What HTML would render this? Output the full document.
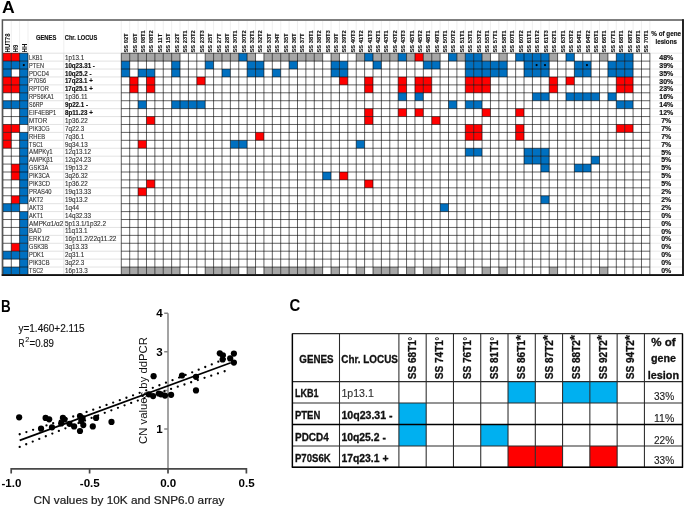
<!DOCTYPE html>
<html><head><meta charset="utf-8"><style>
html,body{margin:0;padding:0;background:#fff;}
body{width:685px;height:508px;overflow:hidden;font-family:"Liberation Sans",sans-serif;}
svg{display:block;will-change:transform;}
</style></head><body>
<svg width="685" height="508" viewBox="0 0 685 508">
<rect width="685" height="508" fill="#fff"/>
<text transform="translate(2.0,12.8) scale(1.08,1)" font-size="16.3" font-weight="bold" font-family="Liberation Sans, sans-serif">A</text>
<line x1="11.30" y1="21" x2="11.30" y2="53.2" stroke="#ebebeb" stroke-width="0.8"/>
<line x1="19.60" y1="21" x2="19.60" y2="53.2" stroke="#ebebeb" stroke-width="0.8"/>
<line x1="28.00" y1="21" x2="28.00" y2="53.2" stroke="#ebebeb" stroke-width="0.8"/>
<line x1="63.80" y1="21" x2="63.80" y2="53.2" stroke="#ebebeb" stroke-width="0.8"/>
<line x1="121.30" y1="21" x2="121.30" y2="53.2" stroke="#ebebeb" stroke-width="0.8"/>
<line x1="129.69" y1="21" x2="129.69" y2="53.2" stroke="#ebebeb" stroke-width="0.8"/>
<line x1="138.08" y1="21" x2="138.08" y2="53.2" stroke="#ebebeb" stroke-width="0.8"/>
<line x1="146.47" y1="21" x2="146.47" y2="53.2" stroke="#ebebeb" stroke-width="0.8"/>
<line x1="154.86" y1="21" x2="154.86" y2="53.2" stroke="#ebebeb" stroke-width="0.8"/>
<line x1="163.25" y1="21" x2="163.25" y2="53.2" stroke="#ebebeb" stroke-width="0.8"/>
<line x1="171.64" y1="21" x2="171.64" y2="53.2" stroke="#ebebeb" stroke-width="0.8"/>
<line x1="180.03" y1="21" x2="180.03" y2="53.2" stroke="#ebebeb" stroke-width="0.8"/>
<line x1="188.42" y1="21" x2="188.42" y2="53.2" stroke="#ebebeb" stroke-width="0.8"/>
<line x1="196.81" y1="21" x2="196.81" y2="53.2" stroke="#ebebeb" stroke-width="0.8"/>
<line x1="205.20" y1="21" x2="205.20" y2="53.2" stroke="#ebebeb" stroke-width="0.8"/>
<line x1="213.59" y1="21" x2="213.59" y2="53.2" stroke="#ebebeb" stroke-width="0.8"/>
<line x1="221.98" y1="21" x2="221.98" y2="53.2" stroke="#ebebeb" stroke-width="0.8"/>
<line x1="230.37" y1="21" x2="230.37" y2="53.2" stroke="#ebebeb" stroke-width="0.8"/>
<line x1="238.76" y1="21" x2="238.76" y2="53.2" stroke="#ebebeb" stroke-width="0.8"/>
<line x1="247.15" y1="21" x2="247.15" y2="53.2" stroke="#ebebeb" stroke-width="0.8"/>
<line x1="255.54" y1="21" x2="255.54" y2="53.2" stroke="#ebebeb" stroke-width="0.8"/>
<line x1="263.93" y1="21" x2="263.93" y2="53.2" stroke="#ebebeb" stroke-width="0.8"/>
<line x1="272.32" y1="21" x2="272.32" y2="53.2" stroke="#ebebeb" stroke-width="0.8"/>
<line x1="280.71" y1="21" x2="280.71" y2="53.2" stroke="#ebebeb" stroke-width="0.8"/>
<line x1="289.10" y1="21" x2="289.10" y2="53.2" stroke="#ebebeb" stroke-width="0.8"/>
<line x1="297.49" y1="21" x2="297.49" y2="53.2" stroke="#ebebeb" stroke-width="0.8"/>
<line x1="305.88" y1="21" x2="305.88" y2="53.2" stroke="#ebebeb" stroke-width="0.8"/>
<line x1="314.27" y1="21" x2="314.27" y2="53.2" stroke="#ebebeb" stroke-width="0.8"/>
<line x1="322.66" y1="21" x2="322.66" y2="53.2" stroke="#ebebeb" stroke-width="0.8"/>
<line x1="331.05" y1="21" x2="331.05" y2="53.2" stroke="#ebebeb" stroke-width="0.8"/>
<line x1="339.44" y1="21" x2="339.44" y2="53.2" stroke="#ebebeb" stroke-width="0.8"/>
<line x1="347.83" y1="21" x2="347.83" y2="53.2" stroke="#ebebeb" stroke-width="0.8"/>
<line x1="356.22" y1="21" x2="356.22" y2="53.2" stroke="#ebebeb" stroke-width="0.8"/>
<line x1="364.61" y1="21" x2="364.61" y2="53.2" stroke="#ebebeb" stroke-width="0.8"/>
<line x1="373.00" y1="21" x2="373.00" y2="53.2" stroke="#ebebeb" stroke-width="0.8"/>
<line x1="381.39" y1="21" x2="381.39" y2="53.2" stroke="#ebebeb" stroke-width="0.8"/>
<line x1="389.78" y1="21" x2="389.78" y2="53.2" stroke="#ebebeb" stroke-width="0.8"/>
<line x1="398.17" y1="21" x2="398.17" y2="53.2" stroke="#ebebeb" stroke-width="0.8"/>
<line x1="406.56" y1="21" x2="406.56" y2="53.2" stroke="#ebebeb" stroke-width="0.8"/>
<line x1="414.95" y1="21" x2="414.95" y2="53.2" stroke="#ebebeb" stroke-width="0.8"/>
<line x1="423.34" y1="21" x2="423.34" y2="53.2" stroke="#ebebeb" stroke-width="0.8"/>
<line x1="431.73" y1="21" x2="431.73" y2="53.2" stroke="#ebebeb" stroke-width="0.8"/>
<line x1="440.12" y1="21" x2="440.12" y2="53.2" stroke="#ebebeb" stroke-width="0.8"/>
<line x1="448.51" y1="21" x2="448.51" y2="53.2" stroke="#ebebeb" stroke-width="0.8"/>
<line x1="456.90" y1="21" x2="456.90" y2="53.2" stroke="#ebebeb" stroke-width="0.8"/>
<line x1="465.29" y1="21" x2="465.29" y2="53.2" stroke="#ebebeb" stroke-width="0.8"/>
<line x1="473.68" y1="21" x2="473.68" y2="53.2" stroke="#ebebeb" stroke-width="0.8"/>
<line x1="482.07" y1="21" x2="482.07" y2="53.2" stroke="#ebebeb" stroke-width="0.8"/>
<line x1="490.46" y1="21" x2="490.46" y2="53.2" stroke="#ebebeb" stroke-width="0.8"/>
<line x1="498.85" y1="21" x2="498.85" y2="53.2" stroke="#ebebeb" stroke-width="0.8"/>
<line x1="507.24" y1="21" x2="507.24" y2="53.2" stroke="#ebebeb" stroke-width="0.8"/>
<line x1="515.63" y1="21" x2="515.63" y2="53.2" stroke="#ebebeb" stroke-width="0.8"/>
<line x1="524.02" y1="21" x2="524.02" y2="53.2" stroke="#ebebeb" stroke-width="0.8"/>
<line x1="532.41" y1="21" x2="532.41" y2="53.2" stroke="#ebebeb" stroke-width="0.8"/>
<line x1="540.80" y1="21" x2="540.80" y2="53.2" stroke="#ebebeb" stroke-width="0.8"/>
<line x1="549.19" y1="21" x2="549.19" y2="53.2" stroke="#ebebeb" stroke-width="0.8"/>
<line x1="557.58" y1="21" x2="557.58" y2="53.2" stroke="#ebebeb" stroke-width="0.8"/>
<line x1="565.97" y1="21" x2="565.97" y2="53.2" stroke="#ebebeb" stroke-width="0.8"/>
<line x1="574.36" y1="21" x2="574.36" y2="53.2" stroke="#ebebeb" stroke-width="0.8"/>
<line x1="582.75" y1="21" x2="582.75" y2="53.2" stroke="#ebebeb" stroke-width="0.8"/>
<line x1="591.14" y1="21" x2="591.14" y2="53.2" stroke="#ebebeb" stroke-width="0.8"/>
<line x1="599.53" y1="21" x2="599.53" y2="53.2" stroke="#ebebeb" stroke-width="0.8"/>
<line x1="607.92" y1="21" x2="607.92" y2="53.2" stroke="#ebebeb" stroke-width="0.8"/>
<line x1="616.31" y1="21" x2="616.31" y2="53.2" stroke="#ebebeb" stroke-width="0.8"/>
<line x1="624.70" y1="21" x2="624.70" y2="53.2" stroke="#ebebeb" stroke-width="0.8"/>
<line x1="633.09" y1="21" x2="633.09" y2="53.2" stroke="#ebebeb" stroke-width="0.8"/>
<line x1="641.48" y1="21" x2="641.48" y2="53.2" stroke="#ebebeb" stroke-width="0.8"/>
<line x1="649.87" y1="21" x2="649.87" y2="53.2" stroke="#ebebeb" stroke-width="0.8"/>
<line x1="28" y1="53.20" x2="121.3" y2="53.20" stroke="#dcdcdc" stroke-width="0.8"/>
<line x1="649.87" y1="53.20" x2="682" y2="53.20" stroke="#e4e4e4" stroke-width="0.8"/>
<line x1="28" y1="61.12" x2="121.3" y2="61.12" stroke="#dcdcdc" stroke-width="0.8"/>
<line x1="649.87" y1="61.12" x2="682" y2="61.12" stroke="#e4e4e4" stroke-width="0.8"/>
<line x1="28" y1="69.04" x2="121.3" y2="69.04" stroke="#dcdcdc" stroke-width="0.8"/>
<line x1="649.87" y1="69.04" x2="682" y2="69.04" stroke="#e4e4e4" stroke-width="0.8"/>
<line x1="28" y1="76.96" x2="121.3" y2="76.96" stroke="#dcdcdc" stroke-width="0.8"/>
<line x1="649.87" y1="76.96" x2="682" y2="76.96" stroke="#e4e4e4" stroke-width="0.8"/>
<line x1="28" y1="84.88" x2="121.3" y2="84.88" stroke="#dcdcdc" stroke-width="0.8"/>
<line x1="649.87" y1="84.88" x2="682" y2="84.88" stroke="#e4e4e4" stroke-width="0.8"/>
<line x1="28" y1="92.80" x2="121.3" y2="92.80" stroke="#dcdcdc" stroke-width="0.8"/>
<line x1="649.87" y1="92.80" x2="682" y2="92.80" stroke="#e4e4e4" stroke-width="0.8"/>
<line x1="28" y1="100.72" x2="121.3" y2="100.72" stroke="#dcdcdc" stroke-width="0.8"/>
<line x1="649.87" y1="100.72" x2="682" y2="100.72" stroke="#e4e4e4" stroke-width="0.8"/>
<line x1="28" y1="108.64" x2="121.3" y2="108.64" stroke="#dcdcdc" stroke-width="0.8"/>
<line x1="649.87" y1="108.64" x2="682" y2="108.64" stroke="#e4e4e4" stroke-width="0.8"/>
<line x1="28" y1="116.56" x2="121.3" y2="116.56" stroke="#dcdcdc" stroke-width="0.8"/>
<line x1="649.87" y1="116.56" x2="682" y2="116.56" stroke="#e4e4e4" stroke-width="0.8"/>
<line x1="28" y1="124.48" x2="121.3" y2="124.48" stroke="#dcdcdc" stroke-width="0.8"/>
<line x1="649.87" y1="124.48" x2="682" y2="124.48" stroke="#e4e4e4" stroke-width="0.8"/>
<line x1="28" y1="132.40" x2="121.3" y2="132.40" stroke="#dcdcdc" stroke-width="0.8"/>
<line x1="649.87" y1="132.40" x2="682" y2="132.40" stroke="#e4e4e4" stroke-width="0.8"/>
<line x1="28" y1="140.32" x2="121.3" y2="140.32" stroke="#dcdcdc" stroke-width="0.8"/>
<line x1="649.87" y1="140.32" x2="682" y2="140.32" stroke="#e4e4e4" stroke-width="0.8"/>
<line x1="28" y1="148.24" x2="121.3" y2="148.24" stroke="#dcdcdc" stroke-width="0.8"/>
<line x1="649.87" y1="148.24" x2="682" y2="148.24" stroke="#e4e4e4" stroke-width="0.8"/>
<line x1="28" y1="156.16" x2="121.3" y2="156.16" stroke="#dcdcdc" stroke-width="0.8"/>
<line x1="649.87" y1="156.16" x2="682" y2="156.16" stroke="#e4e4e4" stroke-width="0.8"/>
<line x1="28" y1="164.08" x2="121.3" y2="164.08" stroke="#dcdcdc" stroke-width="0.8"/>
<line x1="649.87" y1="164.08" x2="682" y2="164.08" stroke="#e4e4e4" stroke-width="0.8"/>
<line x1="28" y1="172.00" x2="121.3" y2="172.00" stroke="#dcdcdc" stroke-width="0.8"/>
<line x1="649.87" y1="172.00" x2="682" y2="172.00" stroke="#e4e4e4" stroke-width="0.8"/>
<line x1="28" y1="179.92" x2="121.3" y2="179.92" stroke="#dcdcdc" stroke-width="0.8"/>
<line x1="649.87" y1="179.92" x2="682" y2="179.92" stroke="#e4e4e4" stroke-width="0.8"/>
<line x1="28" y1="187.84" x2="121.3" y2="187.84" stroke="#dcdcdc" stroke-width="0.8"/>
<line x1="649.87" y1="187.84" x2="682" y2="187.84" stroke="#e4e4e4" stroke-width="0.8"/>
<line x1="28" y1="195.76" x2="121.3" y2="195.76" stroke="#dcdcdc" stroke-width="0.8"/>
<line x1="649.87" y1="195.76" x2="682" y2="195.76" stroke="#e4e4e4" stroke-width="0.8"/>
<line x1="28" y1="203.68" x2="121.3" y2="203.68" stroke="#dcdcdc" stroke-width="0.8"/>
<line x1="649.87" y1="203.68" x2="682" y2="203.68" stroke="#e4e4e4" stroke-width="0.8"/>
<line x1="28" y1="211.60" x2="121.3" y2="211.60" stroke="#dcdcdc" stroke-width="0.8"/>
<line x1="649.87" y1="211.60" x2="682" y2="211.60" stroke="#e4e4e4" stroke-width="0.8"/>
<line x1="28" y1="219.52" x2="121.3" y2="219.52" stroke="#dcdcdc" stroke-width="0.8"/>
<line x1="649.87" y1="219.52" x2="682" y2="219.52" stroke="#e4e4e4" stroke-width="0.8"/>
<line x1="28" y1="227.44" x2="121.3" y2="227.44" stroke="#dcdcdc" stroke-width="0.8"/>
<line x1="649.87" y1="227.44" x2="682" y2="227.44" stroke="#e4e4e4" stroke-width="0.8"/>
<line x1="28" y1="235.36" x2="121.3" y2="235.36" stroke="#dcdcdc" stroke-width="0.8"/>
<line x1="649.87" y1="235.36" x2="682" y2="235.36" stroke="#e4e4e4" stroke-width="0.8"/>
<line x1="28" y1="243.28" x2="121.3" y2="243.28" stroke="#dcdcdc" stroke-width="0.8"/>
<line x1="649.87" y1="243.28" x2="682" y2="243.28" stroke="#e4e4e4" stroke-width="0.8"/>
<line x1="28" y1="251.20" x2="121.3" y2="251.20" stroke="#dcdcdc" stroke-width="0.8"/>
<line x1="649.87" y1="251.20" x2="682" y2="251.20" stroke="#e4e4e4" stroke-width="0.8"/>
<line x1="28" y1="259.12" x2="121.3" y2="259.12" stroke="#dcdcdc" stroke-width="0.8"/>
<line x1="649.87" y1="259.12" x2="682" y2="259.12" stroke="#e4e4e4" stroke-width="0.8"/>
<line x1="28" y1="267.04" x2="121.3" y2="267.04" stroke="#dcdcdc" stroke-width="0.8"/>
<line x1="649.87" y1="267.04" x2="682" y2="267.04" stroke="#e4e4e4" stroke-width="0.8"/>
<line x1="63.8" y1="53.2" x2="63.8" y2="275" stroke="#dcdcdc" stroke-width="0.8"/>
<rect x="2.80" y="53.20" width="8.50" height="7.92" fill="#FF0000"/>
<rect x="11.30" y="53.20" width="8.30" height="7.92" fill="#FF0000"/>
<rect x="19.60" y="53.20" width="8.40" height="7.92" fill="#0070C0"/>
<rect x="2.80" y="61.12" width="8.50" height="7.92" fill="#0070C0"/>
<rect x="11.30" y="61.12" width="8.30" height="7.92" fill="#0070C0"/>
<rect x="19.60" y="61.12" width="8.40" height="7.92" fill="#0070C0"/>
<rect x="2.80" y="69.04" width="8.50" height="7.92" fill="#0070C0"/>
<rect x="19.60" y="69.04" width="8.40" height="7.92" fill="#0070C0"/>
<rect x="2.80" y="76.96" width="8.50" height="7.92" fill="#FF0000"/>
<rect x="11.30" y="76.96" width="8.30" height="7.92" fill="#FF0000"/>
<rect x="19.60" y="76.96" width="8.40" height="7.92" fill="#0070C0"/>
<rect x="2.80" y="84.88" width="8.50" height="7.92" fill="#FF0000"/>
<rect x="11.30" y="84.88" width="8.30" height="7.92" fill="#FF0000"/>
<rect x="19.60" y="84.88" width="8.40" height="7.92" fill="#0070C0"/>
<rect x="19.60" y="92.80" width="8.40" height="7.92" fill="#0070C0"/>
<rect x="2.80" y="100.72" width="8.50" height="7.92" fill="#0070C0"/>
<rect x="11.30" y="100.72" width="8.30" height="7.92" fill="#0070C0"/>
<rect x="19.60" y="100.72" width="8.40" height="7.92" fill="#0070C0"/>
<rect x="19.60" y="108.64" width="8.40" height="7.92" fill="#0070C0"/>
<rect x="19.60" y="116.56" width="8.40" height="7.92" fill="#0070C0"/>
<rect x="2.80" y="124.48" width="8.50" height="7.92" fill="#FF0000"/>
<rect x="11.30" y="124.48" width="8.30" height="7.92" fill="#FF0000"/>
<rect x="2.80" y="132.40" width="8.50" height="7.92" fill="#FF0000"/>
<rect x="19.60" y="132.40" width="8.40" height="7.92" fill="#0070C0"/>
<rect x="2.80" y="140.32" width="8.50" height="7.92" fill="#FF0000"/>
<rect x="19.60" y="140.32" width="8.40" height="7.92" fill="#0070C0"/>
<rect x="19.60" y="148.24" width="8.40" height="7.92" fill="#0070C0"/>
<rect x="19.60" y="156.16" width="8.40" height="7.92" fill="#0070C0"/>
<rect x="11.30" y="164.08" width="8.30" height="7.92" fill="#FF0000"/>
<rect x="19.60" y="164.08" width="8.40" height="7.92" fill="#0070C0"/>
<rect x="11.30" y="172.00" width="8.30" height="7.92" fill="#FF0000"/>
<rect x="19.60" y="172.00" width="8.40" height="7.92" fill="#0070C0"/>
<rect x="19.60" y="179.92" width="8.40" height="7.92" fill="#0070C0"/>
<rect x="19.60" y="187.84" width="8.40" height="7.92" fill="#0070C0"/>
<rect x="11.30" y="195.76" width="8.30" height="7.92" fill="#FF0000"/>
<rect x="19.60" y="195.76" width="8.40" height="7.92" fill="#0070C0"/>
<rect x="2.80" y="203.68" width="8.50" height="7.92" fill="#0070C0"/>
<rect x="11.30" y="203.68" width="8.30" height="7.92" fill="#0070C0"/>
<rect x="19.60" y="211.60" width="8.40" height="7.92" fill="#0070C0"/>
<rect x="19.60" y="219.52" width="8.40" height="7.92" fill="#0070C0"/>
<rect x="19.60" y="227.44" width="8.40" height="7.92" fill="#0070C0"/>
<rect x="19.60" y="235.36" width="8.40" height="7.92" fill="#0070C0"/>
<rect x="11.30" y="243.28" width="8.30" height="7.92" fill="#FF0000"/>
<rect x="19.60" y="243.28" width="8.40" height="7.92" fill="#0070C0"/>
<rect x="2.80" y="251.20" width="8.50" height="7.92" fill="#0070C0"/>
<rect x="11.30" y="251.20" width="8.30" height="7.92" fill="#0070C0"/>
<rect x="19.60" y="251.20" width="8.40" height="7.92" fill="#0070C0"/>
<rect x="19.60" y="259.12" width="8.40" height="7.92" fill="#0070C0"/>
<rect x="2.80" y="267.04" width="8.50" height="7.92" fill="#0070C0"/>
<rect x="11.30" y="267.04" width="8.30" height="7.92" fill="#0070C0"/>
<rect x="19.60" y="267.04" width="8.40" height="7.92" fill="#0070C0"/>
<rect x="121.30" y="53.20" width="8.39" height="7.92" fill="#A6A6A6"/>
<rect x="129.69" y="53.20" width="8.39" height="7.92" fill="#A6A6A6"/>
<rect x="138.08" y="53.20" width="8.39" height="7.92" fill="#A6A6A6"/>
<rect x="146.47" y="53.20" width="8.39" height="7.92" fill="#A6A6A6"/>
<rect x="154.86" y="53.20" width="8.39" height="7.92" fill="#A6A6A6"/>
<rect x="163.25" y="53.20" width="8.39" height="7.92" fill="#A6A6A6"/>
<rect x="171.64" y="53.20" width="8.39" height="7.92" fill="#A6A6A6"/>
<rect x="205.20" y="53.20" width="8.39" height="7.92" fill="#A6A6A6"/>
<rect x="213.59" y="53.20" width="8.39" height="7.92" fill="#A6A6A6"/>
<rect x="221.98" y="53.20" width="8.39" height="7.92" fill="#A6A6A6"/>
<rect x="230.37" y="53.20" width="8.39" height="7.92" fill="#A6A6A6"/>
<rect x="238.76" y="53.20" width="8.39" height="7.92" fill="#0070C0"/>
<rect x="247.15" y="53.20" width="8.39" height="7.92" fill="#A6A6A6"/>
<rect x="263.93" y="53.20" width="8.39" height="7.92" fill="#A6A6A6"/>
<rect x="272.32" y="53.20" width="8.39" height="7.92" fill="#A6A6A6"/>
<rect x="280.71" y="53.20" width="8.39" height="7.92" fill="#A6A6A6"/>
<rect x="289.10" y="53.20" width="8.39" height="7.92" fill="#A6A6A6"/>
<rect x="297.49" y="53.20" width="8.39" height="7.92" fill="#A6A6A6"/>
<rect x="305.88" y="53.20" width="8.39" height="7.92" fill="#A6A6A6"/>
<rect x="314.27" y="53.20" width="8.39" height="7.92" fill="#A6A6A6"/>
<rect x="331.05" y="53.20" width="8.39" height="7.92" fill="#A6A6A6"/>
<rect x="356.22" y="53.20" width="8.39" height="7.92" fill="#A6A6A6"/>
<rect x="364.61" y="53.20" width="8.39" height="7.92" fill="#0070C0"/>
<rect x="373.00" y="53.20" width="8.39" height="7.92" fill="#A6A6A6"/>
<rect x="381.39" y="53.20" width="8.39" height="7.92" fill="#A6A6A6"/>
<rect x="389.78" y="53.20" width="8.39" height="7.92" fill="#A6A6A6"/>
<rect x="398.17" y="53.20" width="8.39" height="7.92" fill="#0070C0"/>
<rect x="406.56" y="53.20" width="8.39" height="7.92" fill="#A6A6A6"/>
<rect x="414.95" y="53.20" width="8.39" height="7.92" fill="#FF0000"/>
<rect x="423.34" y="53.20" width="8.39" height="7.92" fill="#A6A6A6"/>
<rect x="431.73" y="53.20" width="8.39" height="7.92" fill="#A6A6A6"/>
<rect x="448.51" y="53.20" width="8.39" height="7.92" fill="#0070C0"/>
<rect x="456.90" y="53.20" width="8.39" height="7.92" fill="#A6A6A6"/>
<rect x="465.29" y="53.20" width="8.39" height="7.92" fill="#0070C0"/>
<rect x="473.68" y="53.20" width="8.39" height="7.92" fill="#0070C0"/>
<rect x="482.07" y="53.20" width="8.39" height="7.92" fill="#A6A6A6"/>
<rect x="498.85" y="53.20" width="8.39" height="7.92" fill="#A6A6A6"/>
<rect x="515.63" y="53.20" width="8.39" height="7.92" fill="#0070C0"/>
<rect x="524.02" y="53.20" width="8.39" height="7.92" fill="#0070C0"/>
<rect x="532.41" y="53.20" width="8.39" height="7.92" fill="#0070C0"/>
<rect x="540.80" y="53.20" width="8.39" height="7.92" fill="#0070C0"/>
<rect x="549.19" y="53.20" width="8.39" height="7.92" fill="#A6A6A6"/>
<rect x="565.97" y="53.20" width="8.39" height="7.92" fill="#0070C0"/>
<rect x="599.53" y="53.20" width="8.39" height="7.92" fill="#A6A6A6"/>
<rect x="616.31" y="53.20" width="8.39" height="7.92" fill="#0070C0"/>
<rect x="624.70" y="53.20" width="8.39" height="7.92" fill="#0070C0"/>
<rect x="121.30" y="61.12" width="8.39" height="7.92" fill="#0070C0"/>
<rect x="171.64" y="61.12" width="8.39" height="7.92" fill="#0070C0"/>
<rect x="205.20" y="61.12" width="8.39" height="7.92" fill="#0070C0"/>
<rect x="247.15" y="61.12" width="8.39" height="7.92" fill="#0070C0"/>
<rect x="255.54" y="61.12" width="8.39" height="7.92" fill="#0070C0"/>
<rect x="289.10" y="61.12" width="8.39" height="7.92" fill="#0070C0"/>
<rect x="331.05" y="61.12" width="8.39" height="7.92" fill="#0070C0"/>
<rect x="339.44" y="61.12" width="8.39" height="7.92" fill="#0070C0"/>
<rect x="373.00" y="61.12" width="8.39" height="7.92" fill="#0070C0"/>
<rect x="423.34" y="61.12" width="8.39" height="7.92" fill="#0070C0"/>
<rect x="431.73" y="61.12" width="8.39" height="7.92" fill="#0070C0"/>
<rect x="465.29" y="61.12" width="8.39" height="7.92" fill="#0070C0"/>
<rect x="473.68" y="61.12" width="8.39" height="7.92" fill="#0070C0"/>
<rect x="482.07" y="61.12" width="8.39" height="7.92" fill="#0070C0"/>
<rect x="490.46" y="61.12" width="8.39" height="7.92" fill="#0070C0"/>
<rect x="498.85" y="61.12" width="8.39" height="7.92" fill="#0070C0"/>
<rect x="524.02" y="61.12" width="8.39" height="7.92" fill="#0070C0"/>
<rect x="532.41" y="61.12" width="8.39" height="7.92" fill="#0070C0"/>
<rect x="540.80" y="61.12" width="8.39" height="7.92" fill="#0070C0"/>
<rect x="574.36" y="61.12" width="8.39" height="7.92" fill="#0070C0"/>
<rect x="582.75" y="61.12" width="8.39" height="7.92" fill="#0070C0"/>
<rect x="607.92" y="61.12" width="8.39" height="7.92" fill="#0070C0"/>
<rect x="616.31" y="61.12" width="8.39" height="7.92" fill="#0070C0"/>
<rect x="624.70" y="61.12" width="8.39" height="7.92" fill="#0070C0"/>
<rect x="121.30" y="69.04" width="8.39" height="7.92" fill="#0070C0"/>
<rect x="138.08" y="69.04" width="8.39" height="7.92" fill="#0070C0"/>
<rect x="146.47" y="69.04" width="8.39" height="7.92" fill="#0070C0"/>
<rect x="171.64" y="69.04" width="8.39" height="7.92" fill="#0070C0"/>
<rect x="221.98" y="69.04" width="8.39" height="7.92" fill="#0070C0"/>
<rect x="247.15" y="69.04" width="8.39" height="7.92" fill="#0070C0"/>
<rect x="255.54" y="69.04" width="8.39" height="7.92" fill="#0070C0"/>
<rect x="272.32" y="69.04" width="8.39" height="7.92" fill="#0070C0"/>
<rect x="331.05" y="69.04" width="8.39" height="7.92" fill="#0070C0"/>
<rect x="339.44" y="69.04" width="8.39" height="7.92" fill="#0070C0"/>
<rect x="465.29" y="69.04" width="8.39" height="7.92" fill="#0070C0"/>
<rect x="473.68" y="69.04" width="8.39" height="7.92" fill="#0070C0"/>
<rect x="482.07" y="69.04" width="8.39" height="7.92" fill="#0070C0"/>
<rect x="490.46" y="69.04" width="8.39" height="7.92" fill="#0070C0"/>
<rect x="498.85" y="69.04" width="8.39" height="7.92" fill="#0070C0"/>
<rect x="524.02" y="69.04" width="8.39" height="7.92" fill="#0070C0"/>
<rect x="532.41" y="69.04" width="8.39" height="7.92" fill="#0070C0"/>
<rect x="540.80" y="69.04" width="8.39" height="7.92" fill="#0070C0"/>
<rect x="574.36" y="69.04" width="8.39" height="7.92" fill="#0070C0"/>
<rect x="582.75" y="69.04" width="8.39" height="7.92" fill="#0070C0"/>
<rect x="607.92" y="69.04" width="8.39" height="7.92" fill="#0070C0"/>
<rect x="616.31" y="69.04" width="8.39" height="7.92" fill="#0070C0"/>
<rect x="624.70" y="69.04" width="8.39" height="7.92" fill="#0070C0"/>
<rect x="129.69" y="76.96" width="8.39" height="7.92" fill="#FF0000"/>
<rect x="146.47" y="76.96" width="8.39" height="7.92" fill="#FF0000"/>
<rect x="196.81" y="76.96" width="8.39" height="7.92" fill="#FF0000"/>
<rect x="339.44" y="76.96" width="8.39" height="7.92" fill="#FF0000"/>
<rect x="364.61" y="76.96" width="8.39" height="7.92" fill="#FF0000"/>
<rect x="398.17" y="76.96" width="8.39" height="7.92" fill="#FF0000"/>
<rect x="414.95" y="76.96" width="8.39" height="7.92" fill="#FF0000"/>
<rect x="423.34" y="76.96" width="8.39" height="7.92" fill="#FF0000"/>
<rect x="465.29" y="76.96" width="8.39" height="7.92" fill="#FF0000"/>
<rect x="473.68" y="76.96" width="8.39" height="7.92" fill="#FF0000"/>
<rect x="482.07" y="76.96" width="8.39" height="7.92" fill="#FF0000"/>
<rect x="549.19" y="76.96" width="8.39" height="7.92" fill="#FF0000"/>
<rect x="565.97" y="76.96" width="8.39" height="7.92" fill="#FF0000"/>
<rect x="616.31" y="76.96" width="8.39" height="7.92" fill="#FF0000"/>
<rect x="624.70" y="76.96" width="8.39" height="7.92" fill="#FF0000"/>
<rect x="129.69" y="84.88" width="8.39" height="7.92" fill="#FF0000"/>
<rect x="146.47" y="84.88" width="8.39" height="7.92" fill="#FF0000"/>
<rect x="364.61" y="84.88" width="8.39" height="7.92" fill="#FF0000"/>
<rect x="398.17" y="84.88" width="8.39" height="7.92" fill="#FF0000"/>
<rect x="414.95" y="84.88" width="8.39" height="7.92" fill="#FF0000"/>
<rect x="423.34" y="84.88" width="8.39" height="7.92" fill="#FF0000"/>
<rect x="465.29" y="84.88" width="8.39" height="7.92" fill="#FF0000"/>
<rect x="473.68" y="84.88" width="8.39" height="7.92" fill="#FF0000"/>
<rect x="482.07" y="84.88" width="8.39" height="7.92" fill="#FF0000"/>
<rect x="549.19" y="84.88" width="8.39" height="7.92" fill="#FF0000"/>
<rect x="616.31" y="84.88" width="8.39" height="7.92" fill="#FF0000"/>
<rect x="624.70" y="84.88" width="8.39" height="7.92" fill="#FF0000"/>
<rect x="398.17" y="92.80" width="8.39" height="7.92" fill="#0070C0"/>
<rect x="414.95" y="92.80" width="8.39" height="7.92" fill="#0070C0"/>
<rect x="532.41" y="92.80" width="8.39" height="7.92" fill="#0070C0"/>
<rect x="540.80" y="92.80" width="8.39" height="7.92" fill="#0070C0"/>
<rect x="565.97" y="92.80" width="8.39" height="7.92" fill="#0070C0"/>
<rect x="574.36" y="92.80" width="8.39" height="7.92" fill="#0070C0"/>
<rect x="582.75" y="92.80" width="8.39" height="7.92" fill="#0070C0"/>
<rect x="591.14" y="92.80" width="8.39" height="7.92" fill="#0070C0"/>
<rect x="607.92" y="92.80" width="8.39" height="7.92" fill="#0070C0"/>
<rect x="138.08" y="100.72" width="8.39" height="7.92" fill="#0070C0"/>
<rect x="171.64" y="100.72" width="8.39" height="7.92" fill="#0070C0"/>
<rect x="180.03" y="100.72" width="8.39" height="7.92" fill="#0070C0"/>
<rect x="188.42" y="100.72" width="8.39" height="7.92" fill="#0070C0"/>
<rect x="196.81" y="100.72" width="8.39" height="7.92" fill="#0070C0"/>
<rect x="448.51" y="100.72" width="8.39" height="7.92" fill="#0070C0"/>
<rect x="465.29" y="100.72" width="8.39" height="7.92" fill="#0070C0"/>
<rect x="473.68" y="100.72" width="8.39" height="7.92" fill="#0070C0"/>
<rect x="616.31" y="100.72" width="8.39" height="7.92" fill="#0070C0"/>
<rect x="624.70" y="100.72" width="8.39" height="7.92" fill="#0070C0"/>
<rect x="364.61" y="108.64" width="8.39" height="7.92" fill="#FF0000"/>
<rect x="398.17" y="108.64" width="8.39" height="7.92" fill="#FF0000"/>
<rect x="414.95" y="108.64" width="8.39" height="7.92" fill="#FF0000"/>
<rect x="482.07" y="108.64" width="8.39" height="7.92" fill="#FF0000"/>
<rect x="515.63" y="108.64" width="8.39" height="7.92" fill="#FF0000"/>
<rect x="146.47" y="116.56" width="8.39" height="7.92" fill="#FF0000"/>
<rect x="364.61" y="116.56" width="8.39" height="7.92" fill="#FF0000"/>
<rect x="431.73" y="116.56" width="8.39" height="7.92" fill="#FF0000"/>
<rect x="465.29" y="124.48" width="8.39" height="7.92" fill="#FF0000"/>
<rect x="473.68" y="124.48" width="8.39" height="7.92" fill="#FF0000"/>
<rect x="515.63" y="124.48" width="8.39" height="7.92" fill="#FF0000"/>
<rect x="616.31" y="124.48" width="8.39" height="7.92" fill="#FF0000"/>
<rect x="624.70" y="124.48" width="8.39" height="7.92" fill="#FF0000"/>
<rect x="255.54" y="132.40" width="8.39" height="7.92" fill="#FF0000"/>
<rect x="465.29" y="132.40" width="8.39" height="7.92" fill="#FF0000"/>
<rect x="473.68" y="132.40" width="8.39" height="7.92" fill="#FF0000"/>
<rect x="515.63" y="132.40" width="8.39" height="7.92" fill="#FF0000"/>
<rect x="138.08" y="140.32" width="8.39" height="7.92" fill="#FF0000"/>
<rect x="230.37" y="140.32" width="8.39" height="7.92" fill="#0070C0"/>
<rect x="238.76" y="140.32" width="8.39" height="7.92" fill="#0070C0"/>
<rect x="356.22" y="140.32" width="8.39" height="7.92" fill="#0070C0"/>
<rect x="465.29" y="148.24" width="8.39" height="7.92" fill="#0070C0"/>
<rect x="473.68" y="148.24" width="8.39" height="7.92" fill="#0070C0"/>
<rect x="524.02" y="148.24" width="8.39" height="7.92" fill="#0070C0"/>
<rect x="532.41" y="148.24" width="8.39" height="7.92" fill="#0070C0"/>
<rect x="540.80" y="148.24" width="8.39" height="7.92" fill="#0070C0"/>
<rect x="524.02" y="156.16" width="8.39" height="7.92" fill="#0070C0"/>
<rect x="532.41" y="156.16" width="8.39" height="7.92" fill="#0070C0"/>
<rect x="540.80" y="156.16" width="8.39" height="7.92" fill="#0070C0"/>
<rect x="591.14" y="156.16" width="8.39" height="7.92" fill="#0070C0"/>
<rect x="540.80" y="164.08" width="8.39" height="7.92" fill="#0070C0"/>
<rect x="574.36" y="164.08" width="8.39" height="7.92" fill="#0070C0"/>
<rect x="582.75" y="164.08" width="8.39" height="7.92" fill="#0070C0"/>
<rect x="322.66" y="172.00" width="8.39" height="7.92" fill="#0070C0"/>
<rect x="339.44" y="172.00" width="8.39" height="7.92" fill="#FF0000"/>
<rect x="146.47" y="179.92" width="8.39" height="7.92" fill="#FF0000"/>
<rect x="364.61" y="179.92" width="8.39" height="7.92" fill="#FF0000"/>
<rect x="138.08" y="187.84" width="8.39" height="7.92" fill="#FF0000"/>
<rect x="540.80" y="195.76" width="8.39" height="7.92" fill="#0070C0"/>
<rect x="440.12" y="203.68" width="8.39" height="7.92" fill="#0070C0"/>
<rect x="121.30" y="267.04" width="8.39" height="7.92" fill="#A6A6A6"/>
<rect x="129.69" y="267.04" width="8.39" height="7.92" fill="#A6A6A6"/>
<rect x="138.08" y="267.04" width="8.39" height="7.92" fill="#A6A6A6"/>
<rect x="146.47" y="267.04" width="8.39" height="7.92" fill="#A6A6A6"/>
<rect x="154.86" y="267.04" width="8.39" height="7.92" fill="#A6A6A6"/>
<rect x="163.25" y="267.04" width="8.39" height="7.92" fill="#A6A6A6"/>
<rect x="171.64" y="267.04" width="8.39" height="7.92" fill="#A6A6A6"/>
<rect x="205.20" y="267.04" width="8.39" height="7.92" fill="#A6A6A6"/>
<rect x="213.59" y="267.04" width="8.39" height="7.92" fill="#A6A6A6"/>
<rect x="221.98" y="267.04" width="8.39" height="7.92" fill="#A6A6A6"/>
<rect x="230.37" y="267.04" width="8.39" height="7.92" fill="#A6A6A6"/>
<rect x="247.15" y="267.04" width="8.39" height="7.92" fill="#A6A6A6"/>
<rect x="263.93" y="267.04" width="8.39" height="7.92" fill="#A6A6A6"/>
<rect x="272.32" y="267.04" width="8.39" height="7.92" fill="#A6A6A6"/>
<rect x="280.71" y="267.04" width="8.39" height="7.92" fill="#A6A6A6"/>
<rect x="289.10" y="267.04" width="8.39" height="7.92" fill="#A6A6A6"/>
<rect x="297.49" y="267.04" width="8.39" height="7.92" fill="#A6A6A6"/>
<rect x="305.88" y="267.04" width="8.39" height="7.92" fill="#A6A6A6"/>
<rect x="314.27" y="267.04" width="8.39" height="7.92" fill="#A6A6A6"/>
<rect x="331.05" y="267.04" width="8.39" height="7.92" fill="#A6A6A6"/>
<rect x="356.22" y="267.04" width="8.39" height="7.92" fill="#A6A6A6"/>
<rect x="373.00" y="267.04" width="8.39" height="7.92" fill="#A6A6A6"/>
<rect x="381.39" y="267.04" width="8.39" height="7.92" fill="#A6A6A6"/>
<rect x="389.78" y="267.04" width="8.39" height="7.92" fill="#A6A6A6"/>
<rect x="406.56" y="267.04" width="8.39" height="7.92" fill="#A6A6A6"/>
<rect x="423.34" y="267.04" width="8.39" height="7.92" fill="#A6A6A6"/>
<rect x="431.73" y="267.04" width="8.39" height="7.92" fill="#A6A6A6"/>
<rect x="456.90" y="267.04" width="8.39" height="7.92" fill="#A6A6A6"/>
<rect x="482.07" y="267.04" width="8.39" height="7.92" fill="#A6A6A6"/>
<rect x="498.85" y="267.04" width="8.39" height="7.92" fill="#A6A6A6"/>
<rect x="549.19" y="267.04" width="8.39" height="7.92" fill="#A6A6A6"/>
<rect x="599.53" y="267.04" width="8.39" height="7.92" fill="#A6A6A6"/>
<path d="M121.30 53.2V274.96M129.69 53.2V274.96M138.08 53.2V274.96M146.47 53.2V274.96M154.86 53.2V274.96M163.25 53.2V274.96M171.64 53.2V274.96M180.03 53.2V274.96M188.42 53.2V274.96M196.81 53.2V274.96M205.20 53.2V274.96M213.59 53.2V274.96M221.98 53.2V274.96M230.37 53.2V274.96M238.76 53.2V274.96M247.15 53.2V274.96M255.54 53.2V274.96M263.93 53.2V274.96M272.32 53.2V274.96M280.71 53.2V274.96M289.10 53.2V274.96M297.49 53.2V274.96M305.88 53.2V274.96M314.27 53.2V274.96M322.66 53.2V274.96M331.05 53.2V274.96M339.44 53.2V274.96M347.83 53.2V274.96M356.22 53.2V274.96M364.61 53.2V274.96M373.00 53.2V274.96M381.39 53.2V274.96M389.78 53.2V274.96M398.17 53.2V274.96M406.56 53.2V274.96M414.95 53.2V274.96M423.34 53.2V274.96M431.73 53.2V274.96M440.12 53.2V274.96M448.51 53.2V274.96M456.90 53.2V274.96M465.29 53.2V274.96M473.68 53.2V274.96M482.07 53.2V274.96M490.46 53.2V274.96M498.85 53.2V274.96M507.24 53.2V274.96M515.63 53.2V274.96M524.02 53.2V274.96M532.41 53.2V274.96M540.80 53.2V274.96M549.19 53.2V274.96M557.58 53.2V274.96M565.97 53.2V274.96M574.36 53.2V274.96M582.75 53.2V274.96M591.14 53.2V274.96M599.53 53.2V274.96M607.92 53.2V274.96M616.31 53.2V274.96M624.70 53.2V274.96M633.09 53.2V274.96M641.48 53.2V274.96M649.87 53.2V274.96M2.80 53.2V274.96M11.30 53.2V274.96M19.60 53.2V274.96M28.00 53.2V274.96M121.3 53.20H649.87M2.8 53.20H28.0M121.3 61.12H649.87M2.8 61.12H28.0M121.3 69.04H649.87M2.8 69.04H28.0M121.3 76.96H649.87M2.8 76.96H28.0M121.3 84.88H649.87M2.8 84.88H28.0M121.3 92.80H649.87M2.8 92.80H28.0M121.3 100.72H649.87M2.8 100.72H28.0M121.3 108.64H649.87M2.8 108.64H28.0M121.3 116.56H649.87M2.8 116.56H28.0M121.3 124.48H649.87M2.8 124.48H28.0M121.3 132.40H649.87M2.8 132.40H28.0M121.3 140.32H649.87M2.8 140.32H28.0M121.3 148.24H649.87M2.8 148.24H28.0M121.3 156.16H649.87M2.8 156.16H28.0M121.3 164.08H649.87M2.8 164.08H28.0M121.3 172.00H649.87M2.8 172.00H28.0M121.3 179.92H649.87M2.8 179.92H28.0M121.3 187.84H649.87M2.8 187.84H28.0M121.3 195.76H649.87M2.8 195.76H28.0M121.3 203.68H649.87M2.8 203.68H28.0M121.3 211.60H649.87M2.8 211.60H28.0M121.3 219.52H649.87M2.8 219.52H28.0M121.3 227.44H649.87M2.8 227.44H28.0M121.3 235.36H649.87M2.8 235.36H28.0M121.3 243.28H649.87M2.8 243.28H28.0M121.3 251.20H649.87M2.8 251.20H28.0M121.3 259.12H649.87M2.8 259.12H28.0M121.3 267.04H649.87M2.8 267.04H28.0M121.3 274.96H649.87M2.8 274.96H28.0" stroke="#000" stroke-opacity="0.77" stroke-width="0.8" fill="none"/>
<circle cx="536.61" cy="65.08" r="1.1" fill="#000"/>
<circle cx="545.00" cy="65.08" r="1.1" fill="#000"/>
<circle cx="586.95" cy="65.08" r="1.1" fill="#000"/>
<circle cx="23.80" cy="65.08" r="1.1" fill="#000"/>
<text x="29.10" y="59.75" font-size="6.4" fill="#2e2e2e" textLength="13.50" lengthAdjust="spacingAndGlyphs" stroke="#2e2e2e" stroke-width="0.1" font-family="Liberation Sans, sans-serif">LKB1</text>
<text x="64.95" y="59.75" font-size="6.4" fill="#2e2e2e" textLength="19.21" lengthAdjust="spacingAndGlyphs" stroke="#2e2e2e" stroke-width="0.1" font-family="Liberation Sans, sans-serif">1p13.1</text>
<text x="666.30" y="59.85" font-size="6.9" font-weight="bold" fill="#111" text-anchor="middle" textLength="14.10" lengthAdjust="spacingAndGlyphs" stroke="#111" stroke-width="0.15" font-family="Liberation Sans, sans-serif">48%</text>
<text x="29.10" y="67.64" font-size="6.4" fill="#2e2e2e" textLength="15.00" lengthAdjust="spacingAndGlyphs" stroke="#2e2e2e" stroke-width="0.1" font-family="Liberation Sans, sans-serif">PTEN</text>
<text x="64.95" y="67.64" font-size="6.4" font-weight="bold" fill="#111" textLength="29.99" lengthAdjust="spacingAndGlyphs" stroke="#111" stroke-width="0.15" font-family="Liberation Sans, sans-serif">10q23.31 -</text>
<text x="666.30" y="67.74" font-size="6.9" font-weight="bold" fill="#111" text-anchor="middle" textLength="14.10" lengthAdjust="spacingAndGlyphs" stroke="#111" stroke-width="0.15" font-family="Liberation Sans, sans-serif">39%</text>
<text x="29.10" y="75.54" font-size="6.4" fill="#2e2e2e" textLength="20.00" lengthAdjust="spacingAndGlyphs" stroke="#2e2e2e" stroke-width="0.1" font-family="Liberation Sans, sans-serif">PDCD4</text>
<text x="64.95" y="75.54" font-size="6.4" font-weight="bold" fill="#111" textLength="26.52" lengthAdjust="spacingAndGlyphs" stroke="#111" stroke-width="0.15" font-family="Liberation Sans, sans-serif">10q25.2 -</text>
<text x="666.30" y="75.64" font-size="6.9" font-weight="bold" fill="#111" text-anchor="middle" textLength="14.10" lengthAdjust="spacingAndGlyphs" stroke="#111" stroke-width="0.15" font-family="Liberation Sans, sans-serif">35%</text>
<text x="29.10" y="83.44" font-size="6.4" fill="#2e2e2e" textLength="17.10" lengthAdjust="spacingAndGlyphs" stroke="#2e2e2e" stroke-width="0.1" font-family="Liberation Sans, sans-serif">P70S6</text>
<text x="64.95" y="83.44" font-size="6.4" font-weight="bold" fill="#111" textLength="27.83" lengthAdjust="spacingAndGlyphs" stroke="#111" stroke-width="0.15" font-family="Liberation Sans, sans-serif">17q23.1 +</text>
<text x="666.30" y="83.53" font-size="6.9" font-weight="bold" fill="#111" text-anchor="middle" textLength="14.10" lengthAdjust="spacingAndGlyphs" stroke="#111" stroke-width="0.15" font-family="Liberation Sans, sans-serif">30%</text>
<text x="29.10" y="91.33" font-size="6.4" fill="#2e2e2e" textLength="19.80" lengthAdjust="spacingAndGlyphs" stroke="#2e2e2e" stroke-width="0.1" font-family="Liberation Sans, sans-serif">RPTOR</text>
<text x="64.95" y="91.33" font-size="6.4" font-weight="bold" fill="#111" textLength="27.83" lengthAdjust="spacingAndGlyphs" stroke="#111" stroke-width="0.15" font-family="Liberation Sans, sans-serif">17q25.1 +</text>
<text x="666.30" y="91.43" font-size="6.9" font-weight="bold" fill="#111" text-anchor="middle" textLength="14.10" lengthAdjust="spacingAndGlyphs" stroke="#111" stroke-width="0.15" font-family="Liberation Sans, sans-serif">23%</text>
<text x="29.10" y="99.22" font-size="6.4" fill="#2e2e2e" textLength="24.80" lengthAdjust="spacingAndGlyphs" stroke="#2e2e2e" stroke-width="0.1" font-family="Liberation Sans, sans-serif">RPS6KA1</text>
<text x="64.95" y="99.22" font-size="6.4" fill="#2e2e2e" textLength="22.69" lengthAdjust="spacingAndGlyphs" stroke="#2e2e2e" stroke-width="0.1" font-family="Liberation Sans, sans-serif">1p36.11</text>
<text x="666.30" y="99.32" font-size="6.9" font-weight="bold" fill="#111" text-anchor="middle" textLength="14.10" lengthAdjust="spacingAndGlyphs" stroke="#111" stroke-width="0.15" font-family="Liberation Sans, sans-serif">16%</text>
<text x="29.10" y="107.12" font-size="6.4" fill="#2e2e2e" textLength="14.10" lengthAdjust="spacingAndGlyphs" stroke="#2e2e2e" stroke-width="0.1" font-family="Liberation Sans, sans-serif">S6RP</text>
<text x="64.95" y="107.12" font-size="6.4" font-weight="bold" fill="#111" textLength="23.04" lengthAdjust="spacingAndGlyphs" stroke="#111" stroke-width="0.15" font-family="Liberation Sans, sans-serif">9p22.1 -</text>
<text x="666.30" y="107.22" font-size="6.9" font-weight="bold" fill="#111" text-anchor="middle" textLength="14.10" lengthAdjust="spacingAndGlyphs" stroke="#111" stroke-width="0.15" font-family="Liberation Sans, sans-serif">14%</text>
<text x="29.10" y="115.02" font-size="6.4" fill="#2e2e2e" textLength="27.10" lengthAdjust="spacingAndGlyphs" stroke="#2e2e2e" stroke-width="0.1" font-family="Liberation Sans, sans-serif">EIF4EBP1</text>
<text x="64.95" y="115.02" font-size="6.4" font-weight="bold" fill="#111" textLength="27.83" lengthAdjust="spacingAndGlyphs" stroke="#111" stroke-width="0.15" font-family="Liberation Sans, sans-serif">8p11.23 +</text>
<text x="666.30" y="115.11" font-size="6.9" font-weight="bold" fill="#111" text-anchor="middle" textLength="14.10" lengthAdjust="spacingAndGlyphs" stroke="#111" stroke-width="0.15" font-family="Liberation Sans, sans-serif">12%</text>
<text x="29.10" y="122.91" font-size="6.4" fill="#2e2e2e" textLength="18.00" lengthAdjust="spacingAndGlyphs" stroke="#2e2e2e" stroke-width="0.1" font-family="Liberation Sans, sans-serif">MTOR</text>
<text x="64.95" y="122.91" font-size="6.4" fill="#2e2e2e" textLength="22.69" lengthAdjust="spacingAndGlyphs" stroke="#2e2e2e" stroke-width="0.1" font-family="Liberation Sans, sans-serif">1p36.22</text>
<text x="666.30" y="123.01" font-size="6.9" font-weight="bold" fill="#111" text-anchor="middle" textLength="10.15" lengthAdjust="spacingAndGlyphs" stroke="#111" stroke-width="0.15" font-family="Liberation Sans, sans-serif">7%</text>
<text x="29.10" y="130.81" font-size="6.4" fill="#2e2e2e" textLength="20.60" lengthAdjust="spacingAndGlyphs" stroke="#2e2e2e" stroke-width="0.1" font-family="Liberation Sans, sans-serif">PIK3CG</text>
<text x="64.95" y="130.81" font-size="6.4" fill="#2e2e2e" textLength="19.21" lengthAdjust="spacingAndGlyphs" stroke="#2e2e2e" stroke-width="0.1" font-family="Liberation Sans, sans-serif">7q22.3</text>
<text x="666.30" y="130.91" font-size="6.9" font-weight="bold" fill="#111" text-anchor="middle" textLength="10.15" lengthAdjust="spacingAndGlyphs" stroke="#111" stroke-width="0.15" font-family="Liberation Sans, sans-serif">7%</text>
<text x="29.10" y="138.70" font-size="6.4" fill="#2e2e2e" textLength="16.10" lengthAdjust="spacingAndGlyphs" stroke="#2e2e2e" stroke-width="0.1" font-family="Liberation Sans, sans-serif">RHEB</text>
<text x="64.95" y="138.70" font-size="6.4" fill="#2e2e2e" textLength="19.21" lengthAdjust="spacingAndGlyphs" stroke="#2e2e2e" stroke-width="0.1" font-family="Liberation Sans, sans-serif">7q36.1</text>
<text x="666.30" y="138.80" font-size="6.9" font-weight="bold" fill="#111" text-anchor="middle" textLength="10.15" lengthAdjust="spacingAndGlyphs" stroke="#111" stroke-width="0.15" font-family="Liberation Sans, sans-serif">7%</text>
<text x="29.10" y="146.59" font-size="6.4" fill="#2e2e2e" textLength="14.10" lengthAdjust="spacingAndGlyphs" stroke="#2e2e2e" stroke-width="0.1" font-family="Liberation Sans, sans-serif">TSC1</text>
<text x="64.95" y="146.59" font-size="6.4" fill="#2e2e2e" textLength="22.69" lengthAdjust="spacingAndGlyphs" stroke="#2e2e2e" stroke-width="0.1" font-family="Liberation Sans, sans-serif">9q34.13</text>
<text x="666.30" y="146.69" font-size="6.9" font-weight="bold" fill="#111" text-anchor="middle" textLength="10.15" lengthAdjust="spacingAndGlyphs" stroke="#111" stroke-width="0.15" font-family="Liberation Sans, sans-serif">7%</text>
<text x="29.10" y="154.49" font-size="6.4" fill="#2e2e2e" textLength="23.60" lengthAdjust="spacingAndGlyphs" stroke="#2e2e2e" stroke-width="0.1" font-family="Liberation Sans, sans-serif">AMPKγ1</text>
<text x="64.95" y="154.49" font-size="6.4" fill="#2e2e2e" textLength="26.16" lengthAdjust="spacingAndGlyphs" stroke="#2e2e2e" stroke-width="0.1" font-family="Liberation Sans, sans-serif">12q13.12</text>
<text x="666.30" y="154.59" font-size="6.9" font-weight="bold" fill="#111" text-anchor="middle" textLength="10.15" lengthAdjust="spacingAndGlyphs" stroke="#111" stroke-width="0.15" font-family="Liberation Sans, sans-serif">5%</text>
<text x="29.10" y="162.38" font-size="6.4" fill="#2e2e2e" textLength="23.90" lengthAdjust="spacingAndGlyphs" stroke="#2e2e2e" stroke-width="0.1" font-family="Liberation Sans, sans-serif">AMPKβ1</text>
<text x="64.95" y="162.38" font-size="6.4" fill="#2e2e2e" textLength="26.16" lengthAdjust="spacingAndGlyphs" stroke="#2e2e2e" stroke-width="0.1" font-family="Liberation Sans, sans-serif">12q24.23</text>
<text x="666.30" y="162.48" font-size="6.9" font-weight="bold" fill="#111" text-anchor="middle" textLength="10.15" lengthAdjust="spacingAndGlyphs" stroke="#111" stroke-width="0.15" font-family="Liberation Sans, sans-serif">5%</text>
<text x="29.10" y="170.28" font-size="6.4" fill="#2e2e2e" textLength="19.20" lengthAdjust="spacingAndGlyphs" stroke="#2e2e2e" stroke-width="0.1" font-family="Liberation Sans, sans-serif">GSK3A</text>
<text x="64.95" y="170.28" font-size="6.4" fill="#2e2e2e" textLength="22.69" lengthAdjust="spacingAndGlyphs" stroke="#2e2e2e" stroke-width="0.1" font-family="Liberation Sans, sans-serif">19p13.2</text>
<text x="666.30" y="170.38" font-size="6.9" font-weight="bold" fill="#111" text-anchor="middle" textLength="10.15" lengthAdjust="spacingAndGlyphs" stroke="#111" stroke-width="0.15" font-family="Liberation Sans, sans-serif">5%</text>
<text x="29.10" y="178.18" font-size="6.4" fill="#2e2e2e" textLength="20.60" lengthAdjust="spacingAndGlyphs" stroke="#2e2e2e" stroke-width="0.1" font-family="Liberation Sans, sans-serif">PIK3CA</text>
<text x="64.95" y="178.18" font-size="6.4" fill="#2e2e2e" textLength="22.69" lengthAdjust="spacingAndGlyphs" stroke="#2e2e2e" stroke-width="0.1" font-family="Liberation Sans, sans-serif">3q26.32</text>
<text x="666.30" y="178.28" font-size="6.9" font-weight="bold" fill="#111" text-anchor="middle" textLength="10.15" lengthAdjust="spacingAndGlyphs" stroke="#111" stroke-width="0.15" font-family="Liberation Sans, sans-serif">5%</text>
<text x="29.10" y="186.07" font-size="6.4" fill="#2e2e2e" textLength="20.90" lengthAdjust="spacingAndGlyphs" stroke="#2e2e2e" stroke-width="0.1" font-family="Liberation Sans, sans-serif">PIK3CD</text>
<text x="64.95" y="186.07" font-size="6.4" fill="#2e2e2e" textLength="22.69" lengthAdjust="spacingAndGlyphs" stroke="#2e2e2e" stroke-width="0.1" font-family="Liberation Sans, sans-serif">1p36.22</text>
<text x="666.30" y="186.17" font-size="6.9" font-weight="bold" fill="#111" text-anchor="middle" textLength="10.15" lengthAdjust="spacingAndGlyphs" stroke="#111" stroke-width="0.15" font-family="Liberation Sans, sans-serif">5%</text>
<text x="29.10" y="193.97" font-size="6.4" fill="#2e2e2e" textLength="22.40" lengthAdjust="spacingAndGlyphs" stroke="#2e2e2e" stroke-width="0.1" font-family="Liberation Sans, sans-serif">PRAS40</text>
<text x="64.95" y="193.97" font-size="6.4" fill="#2e2e2e" textLength="26.16" lengthAdjust="spacingAndGlyphs" stroke="#2e2e2e" stroke-width="0.1" font-family="Liberation Sans, sans-serif">19q13.33</text>
<text x="666.30" y="194.06" font-size="6.9" font-weight="bold" fill="#111" text-anchor="middle" textLength="10.15" lengthAdjust="spacingAndGlyphs" stroke="#111" stroke-width="0.15" font-family="Liberation Sans, sans-serif">2%</text>
<text x="29.10" y="201.86" font-size="6.4" fill="#2e2e2e" textLength="14.10" lengthAdjust="spacingAndGlyphs" stroke="#2e2e2e" stroke-width="0.1" font-family="Liberation Sans, sans-serif">AKT2</text>
<text x="64.95" y="201.86" font-size="6.4" fill="#2e2e2e" textLength="22.69" lengthAdjust="spacingAndGlyphs" stroke="#2e2e2e" stroke-width="0.1" font-family="Liberation Sans, sans-serif">19q13.2</text>
<text x="666.30" y="201.96" font-size="6.9" font-weight="bold" fill="#111" text-anchor="middle" textLength="10.15" lengthAdjust="spacingAndGlyphs" stroke="#111" stroke-width="0.15" font-family="Liberation Sans, sans-serif">2%</text>
<text x="29.10" y="209.75" font-size="6.4" fill="#2e2e2e" textLength="14.10" lengthAdjust="spacingAndGlyphs" stroke="#2e2e2e" stroke-width="0.1" font-family="Liberation Sans, sans-serif">AKT3</text>
<text x="64.95" y="209.75" font-size="6.4" fill="#2e2e2e" textLength="14.02" lengthAdjust="spacingAndGlyphs" stroke="#2e2e2e" stroke-width="0.1" font-family="Liberation Sans, sans-serif">1q44</text>
<text x="666.30" y="209.85" font-size="6.9" font-weight="bold" fill="#111" text-anchor="middle" textLength="10.15" lengthAdjust="spacingAndGlyphs" stroke="#111" stroke-width="0.15" font-family="Liberation Sans, sans-serif">2%</text>
<text x="29.10" y="217.65" font-size="6.4" fill="#2e2e2e" textLength="14.10" lengthAdjust="spacingAndGlyphs" stroke="#2e2e2e" stroke-width="0.1" font-family="Liberation Sans, sans-serif">AKT1</text>
<text x="64.95" y="217.65" font-size="6.4" fill="#2e2e2e" textLength="26.16" lengthAdjust="spacingAndGlyphs" stroke="#2e2e2e" stroke-width="0.1" font-family="Liberation Sans, sans-serif">14q32.33</text>
<text x="666.30" y="217.75" font-size="6.9" font-weight="bold" fill="#111" text-anchor="middle" textLength="10.15" lengthAdjust="spacingAndGlyphs" stroke="#111" stroke-width="0.15" font-family="Liberation Sans, sans-serif">0%</text>
<text x="29.10" y="225.54" font-size="6.4" fill="#2e2e2e" textLength="34.20" lengthAdjust="spacingAndGlyphs" stroke="#2e2e2e" stroke-width="0.1" font-family="Liberation Sans, sans-serif">AMPKα1/α2</text>
<text x="64.95" y="225.54" font-size="6.4" fill="#2e2e2e" textLength="41.07" lengthAdjust="spacingAndGlyphs" stroke="#2e2e2e" stroke-width="0.1" font-family="Liberation Sans, sans-serif">5p13.1/1p32.2</text>
<text x="666.30" y="225.64" font-size="6.9" font-weight="bold" fill="#111" text-anchor="middle" textLength="10.15" lengthAdjust="spacingAndGlyphs" stroke="#111" stroke-width="0.15" font-family="Liberation Sans, sans-serif">0%</text>
<text x="29.10" y="233.44" font-size="6.4" fill="#2e2e2e" textLength="12.40" lengthAdjust="spacingAndGlyphs" stroke="#2e2e2e" stroke-width="0.1" font-family="Liberation Sans, sans-serif">BAD</text>
<text x="64.95" y="233.44" font-size="6.4" fill="#2e2e2e" textLength="22.69" lengthAdjust="spacingAndGlyphs" stroke="#2e2e2e" stroke-width="0.1" font-family="Liberation Sans, sans-serif">11q13.1</text>
<text x="666.30" y="233.54" font-size="6.9" font-weight="bold" fill="#111" text-anchor="middle" textLength="10.15" lengthAdjust="spacingAndGlyphs" stroke="#111" stroke-width="0.15" font-family="Liberation Sans, sans-serif">0%</text>
<text x="29.10" y="241.33" font-size="6.4" fill="#2e2e2e" textLength="20.60" lengthAdjust="spacingAndGlyphs" stroke="#2e2e2e" stroke-width="0.1" font-family="Liberation Sans, sans-serif">ERK1/2</text>
<text x="64.95" y="241.33" font-size="6.4" fill="#2e2e2e" textLength="51.49" lengthAdjust="spacingAndGlyphs" stroke="#2e2e2e" stroke-width="0.1" font-family="Liberation Sans, sans-serif">16p11.2/22q11.22</text>
<text x="666.30" y="241.43" font-size="6.9" font-weight="bold" fill="#111" text-anchor="middle" textLength="10.15" lengthAdjust="spacingAndGlyphs" stroke="#111" stroke-width="0.15" font-family="Liberation Sans, sans-serif">0%</text>
<text x="29.10" y="249.23" font-size="6.4" fill="#2e2e2e" textLength="18.90" lengthAdjust="spacingAndGlyphs" stroke="#2e2e2e" stroke-width="0.1" font-family="Liberation Sans, sans-serif">GSK3B</text>
<text x="64.95" y="249.23" font-size="6.4" fill="#2e2e2e" textLength="22.69" lengthAdjust="spacingAndGlyphs" stroke="#2e2e2e" stroke-width="0.1" font-family="Liberation Sans, sans-serif">3q13.33</text>
<text x="666.30" y="249.33" font-size="6.9" font-weight="bold" fill="#111" text-anchor="middle" textLength="10.15" lengthAdjust="spacingAndGlyphs" stroke="#111" stroke-width="0.15" font-family="Liberation Sans, sans-serif">0%</text>
<text x="29.10" y="257.12" font-size="6.4" fill="#2e2e2e" textLength="15.00" lengthAdjust="spacingAndGlyphs" stroke="#2e2e2e" stroke-width="0.1" font-family="Liberation Sans, sans-serif">PDK1</text>
<text x="64.95" y="257.12" font-size="6.4" fill="#2e2e2e" textLength="19.21" lengthAdjust="spacingAndGlyphs" stroke="#2e2e2e" stroke-width="0.1" font-family="Liberation Sans, sans-serif">2q31.1</text>
<text x="666.30" y="257.23" font-size="6.9" font-weight="bold" fill="#111" text-anchor="middle" textLength="10.15" lengthAdjust="spacingAndGlyphs" stroke="#111" stroke-width="0.15" font-family="Liberation Sans, sans-serif">0%</text>
<text x="29.10" y="265.02" font-size="6.4" fill="#2e2e2e" textLength="20.40" lengthAdjust="spacingAndGlyphs" stroke="#2e2e2e" stroke-width="0.1" font-family="Liberation Sans, sans-serif">PIK3CB</text>
<text x="64.95" y="265.02" font-size="6.4" fill="#2e2e2e" textLength="19.21" lengthAdjust="spacingAndGlyphs" stroke="#2e2e2e" stroke-width="0.1" font-family="Liberation Sans, sans-serif">3q22.3</text>
<text x="666.30" y="265.12" font-size="6.9" font-weight="bold" fill="#111" text-anchor="middle" textLength="10.15" lengthAdjust="spacingAndGlyphs" stroke="#111" stroke-width="0.15" font-family="Liberation Sans, sans-serif">0%</text>
<text x="29.10" y="272.91" font-size="6.4" fill="#2e2e2e" textLength="14.10" lengthAdjust="spacingAndGlyphs" stroke="#2e2e2e" stroke-width="0.1" font-family="Liberation Sans, sans-serif">TSC2</text>
<text x="64.95" y="272.91" font-size="6.4" fill="#2e2e2e" textLength="22.69" lengthAdjust="spacingAndGlyphs" stroke="#2e2e2e" stroke-width="0.1" font-family="Liberation Sans, sans-serif">16p13.3</text>
<text x="666.30" y="273.01" font-size="6.9" font-weight="bold" fill="#111" text-anchor="middle" textLength="10.15" lengthAdjust="spacingAndGlyphs" stroke="#111" stroke-width="0.15" font-family="Liberation Sans, sans-serif">0%</text>
<text x="36.00" y="39.50" font-size="6.6" font-weight="bold" fill="#111" textLength="20.30" lengthAdjust="spacingAndGlyphs" stroke="#111" stroke-width="0.15" font-family="Liberation Sans, sans-serif">GENES</text>
<text x="64.80" y="39.50" font-size="6.6" font-weight="bold" fill="#111" textLength="32.40" lengthAdjust="spacingAndGlyphs" stroke="#111" stroke-width="0.15" font-family="Liberation Sans, sans-serif">Chr. LOCUS</text>
<text x="666.20" y="35.60" font-size="6.6" font-weight="bold" fill="#111" text-anchor="middle" textLength="29.80" lengthAdjust="spacingAndGlyphs" stroke="#111" stroke-width="0.15" font-family="Liberation Sans, sans-serif">% of gene</text>
<text x="666.20" y="44.00" font-size="6.6" font-weight="bold" fill="#111" text-anchor="middle" textLength="21.50" lengthAdjust="spacingAndGlyphs" stroke="#111" stroke-width="0.15" font-family="Liberation Sans, sans-serif">lesions</text>
<text transform="translate(9.90,52.40) rotate(-90)" font-size="6.6" font-weight="bold" fill="#111" textLength="18.85" lengthAdjust="spacingAndGlyphs" font-family="Liberation Sans, sans-serif">HUT78</text>
<text transform="translate(18.40,52.40) rotate(-90)" font-size="6.6" font-weight="bold" fill="#111" textLength="7.61" lengthAdjust="spacingAndGlyphs" font-family="Liberation Sans, sans-serif">H9</text>
<text transform="translate(26.70,52.40) rotate(-90)" font-size="6.6" font-weight="bold" fill="#111" textLength="8.59" lengthAdjust="spacingAndGlyphs" font-family="Liberation Sans, sans-serif">HH</text>
<text transform="translate(128.25,52.50) rotate(-90)" font-size="6.0" font-weight="bold" fill="#111" textLength="19.11" lengthAdjust="spacingAndGlyphs" stroke="#111" stroke-width="0.12" font-family="Liberation Sans, sans-serif">SS 02T</text>
<text transform="translate(136.64,52.50) rotate(-90)" font-size="6.0" font-weight="bold" fill="#111" textLength="19.11" lengthAdjust="spacingAndGlyphs" stroke="#111" stroke-width="0.12" font-family="Liberation Sans, sans-serif">SS 05T</text>
<text transform="translate(145.03,52.50) rotate(-90)" font-size="6.0" font-weight="bold" fill="#111" textLength="22.30" lengthAdjust="spacingAndGlyphs" stroke="#111" stroke-width="0.12" font-family="Liberation Sans, sans-serif">SS 08T1</text>
<text transform="translate(153.42,52.50) rotate(-90)" font-size="6.0" font-weight="bold" fill="#111" textLength="22.30" lengthAdjust="spacingAndGlyphs" stroke="#111" stroke-width="0.12" font-family="Liberation Sans, sans-serif">SS 08T2</text>
<text transform="translate(161.81,52.50) rotate(-90)" font-size="6.0" font-weight="bold" fill="#111" textLength="18.79" lengthAdjust="spacingAndGlyphs" stroke="#111" stroke-width="0.12" font-family="Liberation Sans, sans-serif">SS 11T</text>
<text transform="translate(170.20,52.50) rotate(-90)" font-size="6.0" font-weight="bold" fill="#111" textLength="19.11" lengthAdjust="spacingAndGlyphs" stroke="#111" stroke-width="0.12" font-family="Liberation Sans, sans-serif">SS 15T</text>
<text transform="translate(178.59,52.50) rotate(-90)" font-size="6.0" font-weight="bold" fill="#111" textLength="19.11" lengthAdjust="spacingAndGlyphs" stroke="#111" stroke-width="0.12" font-family="Liberation Sans, sans-serif">SS 22T</text>
<text transform="translate(186.98,52.50) rotate(-90)" font-size="6.0" font-weight="bold" fill="#111" textLength="22.30" lengthAdjust="spacingAndGlyphs" stroke="#111" stroke-width="0.12" font-family="Liberation Sans, sans-serif">SS 23T1</text>
<text transform="translate(195.37,52.50) rotate(-90)" font-size="6.0" font-weight="bold" fill="#111" textLength="22.30" lengthAdjust="spacingAndGlyphs" stroke="#111" stroke-width="0.12" font-family="Liberation Sans, sans-serif">SS 23T2</text>
<text transform="translate(203.76,52.50) rotate(-90)" font-size="6.0" font-weight="bold" fill="#111" textLength="22.30" lengthAdjust="spacingAndGlyphs" stroke="#111" stroke-width="0.12" font-family="Liberation Sans, sans-serif">SS 23T3</text>
<text transform="translate(212.15,52.50) rotate(-90)" font-size="6.0" font-weight="bold" fill="#111" textLength="19.11" lengthAdjust="spacingAndGlyphs" stroke="#111" stroke-width="0.12" font-family="Liberation Sans, sans-serif">SS 25T</text>
<text transform="translate(220.54,52.50) rotate(-90)" font-size="6.0" font-weight="bold" fill="#111" textLength="19.11" lengthAdjust="spacingAndGlyphs" stroke="#111" stroke-width="0.12" font-family="Liberation Sans, sans-serif">SS 27T</text>
<text transform="translate(228.93,52.50) rotate(-90)" font-size="6.0" font-weight="bold" fill="#111" textLength="19.11" lengthAdjust="spacingAndGlyphs" stroke="#111" stroke-width="0.12" font-family="Liberation Sans, sans-serif">SS 28T</text>
<text transform="translate(237.32,52.50) rotate(-90)" font-size="6.0" font-weight="bold" fill="#111" textLength="22.30" lengthAdjust="spacingAndGlyphs" stroke="#111" stroke-width="0.12" font-family="Liberation Sans, sans-serif">SS 30T1</text>
<text transform="translate(245.71,52.50) rotate(-90)" font-size="6.0" font-weight="bold" fill="#111" textLength="22.30" lengthAdjust="spacingAndGlyphs" stroke="#111" stroke-width="0.12" font-family="Liberation Sans, sans-serif">SS 30T2</text>
<text transform="translate(254.10,52.50) rotate(-90)" font-size="6.0" font-weight="bold" fill="#111" textLength="22.30" lengthAdjust="spacingAndGlyphs" stroke="#111" stroke-width="0.12" font-family="Liberation Sans, sans-serif">SS 32T1</text>
<text transform="translate(262.49,52.50) rotate(-90)" font-size="6.0" font-weight="bold" fill="#111" textLength="22.30" lengthAdjust="spacingAndGlyphs" stroke="#111" stroke-width="0.12" font-family="Liberation Sans, sans-serif">SS 32T2</text>
<text transform="translate(270.88,52.50) rotate(-90)" font-size="6.0" font-weight="bold" fill="#111" textLength="19.11" lengthAdjust="spacingAndGlyphs" stroke="#111" stroke-width="0.12" font-family="Liberation Sans, sans-serif">SS 33T</text>
<text transform="translate(279.27,52.50) rotate(-90)" font-size="6.0" font-weight="bold" fill="#111" textLength="19.11" lengthAdjust="spacingAndGlyphs" stroke="#111" stroke-width="0.12" font-family="Liberation Sans, sans-serif">SS 34T</text>
<text transform="translate(287.66,52.50) rotate(-90)" font-size="6.0" font-weight="bold" fill="#111" textLength="19.11" lengthAdjust="spacingAndGlyphs" stroke="#111" stroke-width="0.12" font-family="Liberation Sans, sans-serif">SS 35T</text>
<text transform="translate(296.05,52.50) rotate(-90)" font-size="6.0" font-weight="bold" fill="#111" textLength="19.11" lengthAdjust="spacingAndGlyphs" stroke="#111" stroke-width="0.12" font-family="Liberation Sans, sans-serif">SS 36T</text>
<text transform="translate(304.44,52.50) rotate(-90)" font-size="6.0" font-weight="bold" fill="#111" textLength="19.11" lengthAdjust="spacingAndGlyphs" stroke="#111" stroke-width="0.12" font-family="Liberation Sans, sans-serif">SS 37T</text>
<text transform="translate(312.83,52.50) rotate(-90)" font-size="6.0" font-weight="bold" fill="#111" textLength="22.30" lengthAdjust="spacingAndGlyphs" stroke="#111" stroke-width="0.12" font-family="Liberation Sans, sans-serif">SS 38T1</text>
<text transform="translate(321.22,52.50) rotate(-90)" font-size="6.0" font-weight="bold" fill="#111" textLength="22.30" lengthAdjust="spacingAndGlyphs" stroke="#111" stroke-width="0.12" font-family="Liberation Sans, sans-serif">SS 38T2</text>
<text transform="translate(329.61,52.50) rotate(-90)" font-size="6.0" font-weight="bold" fill="#111" textLength="22.30" lengthAdjust="spacingAndGlyphs" stroke="#111" stroke-width="0.12" font-family="Liberation Sans, sans-serif">SS 38T3</text>
<text transform="translate(338.00,52.50) rotate(-90)" font-size="6.0" font-weight="bold" fill="#111" textLength="19.11" lengthAdjust="spacingAndGlyphs" stroke="#111" stroke-width="0.12" font-family="Liberation Sans, sans-serif">SS 39T</text>
<text transform="translate(346.39,52.50) rotate(-90)" font-size="6.0" font-weight="bold" fill="#111" textLength="22.30" lengthAdjust="spacingAndGlyphs" stroke="#111" stroke-width="0.12" font-family="Liberation Sans, sans-serif">SS 39T2</text>
<text transform="translate(354.78,52.50) rotate(-90)" font-size="6.0" font-weight="bold" fill="#111" textLength="22.30" lengthAdjust="spacingAndGlyphs" stroke="#111" stroke-width="0.12" font-family="Liberation Sans, sans-serif">SS 40T3</text>
<text transform="translate(363.17,52.50) rotate(-90)" font-size="6.0" font-weight="bold" fill="#111" textLength="22.30" lengthAdjust="spacingAndGlyphs" stroke="#111" stroke-width="0.12" font-family="Liberation Sans, sans-serif">SS 41T2</text>
<text transform="translate(371.56,52.50) rotate(-90)" font-size="6.0" font-weight="bold" fill="#111" textLength="22.30" lengthAdjust="spacingAndGlyphs" stroke="#111" stroke-width="0.12" font-family="Liberation Sans, sans-serif">SS 41T3</text>
<text transform="translate(379.95,52.50) rotate(-90)" font-size="6.0" font-weight="bold" fill="#111" textLength="22.30" lengthAdjust="spacingAndGlyphs" stroke="#111" stroke-width="0.12" font-family="Liberation Sans, sans-serif">SS 42T1</text>
<text transform="translate(388.34,52.50) rotate(-90)" font-size="6.0" font-weight="bold" fill="#111" textLength="22.30" lengthAdjust="spacingAndGlyphs" stroke="#111" stroke-width="0.12" font-family="Liberation Sans, sans-serif">SS 43T1</text>
<text transform="translate(396.73,52.50) rotate(-90)" font-size="6.0" font-weight="bold" fill="#111" textLength="22.30" lengthAdjust="spacingAndGlyphs" stroke="#111" stroke-width="0.12" font-family="Liberation Sans, sans-serif">SS 43T2</text>
<text transform="translate(405.12,52.50) rotate(-90)" font-size="6.0" font-weight="bold" fill="#111" textLength="22.30" lengthAdjust="spacingAndGlyphs" stroke="#111" stroke-width="0.12" font-family="Liberation Sans, sans-serif">SS 43T3</text>
<text transform="translate(413.51,52.50) rotate(-90)" font-size="6.0" font-weight="bold" fill="#111" textLength="22.30" lengthAdjust="spacingAndGlyphs" stroke="#111" stroke-width="0.12" font-family="Liberation Sans, sans-serif">SS 45T1</text>
<text transform="translate(421.90,52.50) rotate(-90)" font-size="6.0" font-weight="bold" fill="#111" textLength="22.30" lengthAdjust="spacingAndGlyphs" stroke="#111" stroke-width="0.12" font-family="Liberation Sans, sans-serif">SS 45T2</text>
<text transform="translate(430.29,52.50) rotate(-90)" font-size="6.0" font-weight="bold" fill="#111" textLength="22.30" lengthAdjust="spacingAndGlyphs" stroke="#111" stroke-width="0.12" font-family="Liberation Sans, sans-serif">SS 48T1</text>
<text transform="translate(438.68,52.50) rotate(-90)" font-size="6.0" font-weight="bold" fill="#111" textLength="22.30" lengthAdjust="spacingAndGlyphs" stroke="#111" stroke-width="0.12" font-family="Liberation Sans, sans-serif">SS 49T1</text>
<text transform="translate(447.07,52.50) rotate(-90)" font-size="6.0" font-weight="bold" fill="#111" textLength="22.30" lengthAdjust="spacingAndGlyphs" stroke="#111" stroke-width="0.12" font-family="Liberation Sans, sans-serif">SS 50T1</text>
<text transform="translate(455.46,52.50) rotate(-90)" font-size="6.0" font-weight="bold" fill="#111" textLength="22.30" lengthAdjust="spacingAndGlyphs" stroke="#111" stroke-width="0.12" font-family="Liberation Sans, sans-serif">SS 50T2</text>
<text transform="translate(463.85,52.50) rotate(-90)" font-size="6.0" font-weight="bold" fill="#111" textLength="22.30" lengthAdjust="spacingAndGlyphs" stroke="#111" stroke-width="0.12" font-family="Liberation Sans, sans-serif">SS 51T1</text>
<text transform="translate(472.24,52.50) rotate(-90)" font-size="6.0" font-weight="bold" fill="#111" textLength="22.30" lengthAdjust="spacingAndGlyphs" stroke="#111" stroke-width="0.12" font-family="Liberation Sans, sans-serif">SS 53T1</text>
<text transform="translate(480.63,52.50) rotate(-90)" font-size="6.0" font-weight="bold" fill="#111" textLength="22.30" lengthAdjust="spacingAndGlyphs" stroke="#111" stroke-width="0.12" font-family="Liberation Sans, sans-serif">SS 53T2</text>
<text transform="translate(489.02,52.50) rotate(-90)" font-size="6.0" font-weight="bold" fill="#111" textLength="22.30" lengthAdjust="spacingAndGlyphs" stroke="#111" stroke-width="0.12" font-family="Liberation Sans, sans-serif">SS 55T1</text>
<text transform="translate(497.41,52.50) rotate(-90)" font-size="6.0" font-weight="bold" fill="#111" textLength="22.30" lengthAdjust="spacingAndGlyphs" stroke="#111" stroke-width="0.12" font-family="Liberation Sans, sans-serif">SS 57T1</text>
<text transform="translate(505.80,52.50) rotate(-90)" font-size="6.0" font-weight="bold" fill="#111" textLength="22.30" lengthAdjust="spacingAndGlyphs" stroke="#111" stroke-width="0.12" font-family="Liberation Sans, sans-serif">SS 58T1</text>
<text transform="translate(514.19,52.50) rotate(-90)" font-size="6.0" font-weight="bold" fill="#111" textLength="22.30" lengthAdjust="spacingAndGlyphs" stroke="#111" stroke-width="0.12" font-family="Liberation Sans, sans-serif">SS 60T1</text>
<text transform="translate(522.58,52.50) rotate(-90)" font-size="6.0" font-weight="bold" fill="#111" textLength="22.30" lengthAdjust="spacingAndGlyphs" stroke="#111" stroke-width="0.12" font-family="Liberation Sans, sans-serif">SS 60T2</text>
<text transform="translate(530.97,52.50) rotate(-90)" font-size="6.0" font-weight="bold" fill="#111" textLength="22.30" lengthAdjust="spacingAndGlyphs" stroke="#111" stroke-width="0.12" font-family="Liberation Sans, sans-serif">SS 61T1</text>
<text transform="translate(539.36,52.50) rotate(-90)" font-size="6.0" font-weight="bold" fill="#111" textLength="22.30" lengthAdjust="spacingAndGlyphs" stroke="#111" stroke-width="0.12" font-family="Liberation Sans, sans-serif">SS 61T2</text>
<text transform="translate(547.75,52.50) rotate(-90)" font-size="6.0" font-weight="bold" fill="#111" textLength="22.30" lengthAdjust="spacingAndGlyphs" stroke="#111" stroke-width="0.12" font-family="Liberation Sans, sans-serif">SS 61T3</text>
<text transform="translate(556.14,52.50) rotate(-90)" font-size="6.0" font-weight="bold" fill="#111" textLength="22.30" lengthAdjust="spacingAndGlyphs" stroke="#111" stroke-width="0.12" font-family="Liberation Sans, sans-serif">SS 62T1</text>
<text transform="translate(564.53,52.50) rotate(-90)" font-size="6.0" font-weight="bold" fill="#111" textLength="22.30" lengthAdjust="spacingAndGlyphs" stroke="#111" stroke-width="0.12" font-family="Liberation Sans, sans-serif">SS 63T1</text>
<text transform="translate(572.92,52.50) rotate(-90)" font-size="6.0" font-weight="bold" fill="#111" textLength="22.30" lengthAdjust="spacingAndGlyphs" stroke="#111" stroke-width="0.12" font-family="Liberation Sans, sans-serif">SS 63T2</text>
<text transform="translate(581.31,52.50) rotate(-90)" font-size="6.0" font-weight="bold" fill="#111" textLength="22.30" lengthAdjust="spacingAndGlyphs" stroke="#111" stroke-width="0.12" font-family="Liberation Sans, sans-serif">SS 64T1</text>
<text transform="translate(589.70,52.50) rotate(-90)" font-size="6.0" font-weight="bold" fill="#111" textLength="22.30" lengthAdjust="spacingAndGlyphs" stroke="#111" stroke-width="0.12" font-family="Liberation Sans, sans-serif">SS 64T2</text>
<text transform="translate(598.09,52.50) rotate(-90)" font-size="6.0" font-weight="bold" fill="#111" textLength="22.30" lengthAdjust="spacingAndGlyphs" stroke="#111" stroke-width="0.12" font-family="Liberation Sans, sans-serif">SS 65T1</text>
<text transform="translate(606.48,52.50) rotate(-90)" font-size="6.0" font-weight="bold" fill="#111" textLength="22.30" lengthAdjust="spacingAndGlyphs" stroke="#111" stroke-width="0.12" font-family="Liberation Sans, sans-serif">SS 66T1</text>
<text transform="translate(614.87,52.50) rotate(-90)" font-size="6.0" font-weight="bold" fill="#111" textLength="22.30" lengthAdjust="spacingAndGlyphs" stroke="#111" stroke-width="0.12" font-family="Liberation Sans, sans-serif">SS 67T1</text>
<text transform="translate(623.26,52.50) rotate(-90)" font-size="6.0" font-weight="bold" fill="#111" textLength="22.30" lengthAdjust="spacingAndGlyphs" stroke="#111" stroke-width="0.12" font-family="Liberation Sans, sans-serif">SS 68T1</text>
<text transform="translate(631.65,52.50) rotate(-90)" font-size="6.0" font-weight="bold" fill="#111" textLength="22.30" lengthAdjust="spacingAndGlyphs" stroke="#111" stroke-width="0.12" font-family="Liberation Sans, sans-serif">SS 68T2</text>
<text transform="translate(640.04,52.50) rotate(-90)" font-size="6.0" font-weight="bold" fill="#111" textLength="22.30" lengthAdjust="spacingAndGlyphs" stroke="#111" stroke-width="0.12" font-family="Liberation Sans, sans-serif">SS 69T1</text>
<text transform="translate(648.43,52.50) rotate(-90)" font-size="6.0" font-weight="bold" fill="#111" textLength="22.30" lengthAdjust="spacingAndGlyphs" stroke="#111" stroke-width="0.12" font-family="Liberation Sans, sans-serif">SS 70T1</text>
<path d="M2.4 275V20H683V275Z" fill="none" stroke="#555" stroke-width="1.5"/>
<line x1="1.7" y1="275.2" x2="683.9" y2="275.2" stroke="#111" stroke-width="1.7"/>
<line x1="683" y1="19.3" x2="683" y2="275.8" stroke="#1a1a1a" stroke-width="1.8"/>
<text transform="translate(1.0,311.6) scale(0.86,1)" font-size="15.6" font-weight="bold" font-family="Liberation Sans, sans-serif">B</text>
<text x="18.40" y="332.00" font-size="10.9" fill="#111" textLength="66.20" lengthAdjust="spacingAndGlyphs" stroke="#111" stroke-width="0.15" font-family="Liberation Sans, sans-serif">y=1.460+2.115</text>
<text x="18.50" y="347.30" font-size="10.9" fill="#111" textLength="6.00" lengthAdjust="spacingAndGlyphs" stroke="#111" stroke-width="0.15" font-family="Liberation Sans, sans-serif">R</text>
<text x="25.20" y="341.90" font-size="7.4" fill="#111" textLength="4.00" lengthAdjust="spacingAndGlyphs" stroke="#111" stroke-width="0.1" font-family="Liberation Sans, sans-serif">2</text>
<text x="29.50" y="347.30" font-size="10.9" fill="#111" textLength="24.40" lengthAdjust="spacingAndGlyphs" stroke="#111" stroke-width="0.15" font-family="Liberation Sans, sans-serif">=0.89</text>
<path d="M168.0 468.9V313.20M164.2 313.20H168.0M164.2 351.80H168.0M164.2 390.40H168.0M164.2 429.00H168.0" stroke="#858585" stroke-width="1.5" fill="none"/>
<path d="M11.20 473.6V468.9H246.40V473.6M89.60 468.9V473.6M168.00 468.9V473.6" stroke="#484848" stroke-width="1.7" fill="none"/>
<text x="11.40" y="486.80" font-size="11.6" font-weight="bold" text-anchor="middle" font-family="Liberation Sans, sans-serif">-1.0</text>
<text x="89.80" y="486.80" font-size="11.6" font-weight="bold" text-anchor="middle" font-family="Liberation Sans, sans-serif">-0.5</text>
<text x="168.20" y="486.80" font-size="11.6" font-weight="bold" text-anchor="middle" font-family="Liberation Sans, sans-serif">0.0</text>
<text x="246.60" y="486.80" font-size="11.6" font-weight="bold" text-anchor="middle" font-family="Liberation Sans, sans-serif">0.5</text>
<text x="162.60" y="317.30" font-size="11.6" font-weight="bold" text-anchor="end" font-family="Liberation Sans, sans-serif">4</text>
<text x="162.60" y="355.90" font-size="11.6" font-weight="bold" text-anchor="end" font-family="Liberation Sans, sans-serif">3</text>
<text x="162.60" y="433.10" font-size="11.6" font-weight="bold" text-anchor="end" font-family="Liberation Sans, sans-serif">1</text>
<text x="33.60" y="503.80" font-size="11.3" fill="#1a1a1a" textLength="190.80" lengthAdjust="spacingAndGlyphs" stroke="#1a1a1a" stroke-width="0.2" font-family="Liberation Sans, sans-serif">CN values by 10K and SNP6.0 array</text>
<text transform="translate(146.60,443.90) rotate(-90)" font-size="11.3" fill="#111" textLength="106.80" lengthAdjust="spacingAndGlyphs" font-family="Liberation Sans, sans-serif">CN values by ddPCR</text>
<circle cx="19.15" cy="417.3" r="3.1" fill="#000"/>
<circle cx="41.05" cy="428.7" r="3.1" fill="#000"/>
<circle cx="45.6" cy="417.9" r="3.1" fill="#000"/>
<circle cx="49.2" cy="419.3" r="3.1" fill="#000"/>
<circle cx="52.0" cy="427.3" r="3.1" fill="#000"/>
<circle cx="61.2" cy="423.4" r="3.1" fill="#000"/>
<circle cx="62.9" cy="417.9" r="3.1" fill="#000"/>
<circle cx="64.5" cy="419.5" r="3.1" fill="#000"/>
<circle cx="69.5" cy="423.8" r="3.1" fill="#000"/>
<circle cx="74.1" cy="426.4" r="3.1" fill="#000"/>
<circle cx="80.0" cy="431.0" r="3.1" fill="#000"/>
<circle cx="80.0" cy="416.0" r="3.1" fill="#000"/>
<circle cx="82.6" cy="418.0" r="3.1" fill="#000"/>
<circle cx="81.3" cy="421.0" r="3.1" fill="#000"/>
<circle cx="83.3" cy="425.1" r="3.1" fill="#000"/>
<circle cx="92.8" cy="426.4" r="3.1" fill="#000"/>
<circle cx="96.1" cy="417.9" r="3.1" fill="#000"/>
<circle cx="111.5" cy="421.9" r="3.1" fill="#000"/>
<circle cx="148.8" cy="394.3" r="3.1" fill="#000"/>
<circle cx="153.1" cy="396.1" r="3.1" fill="#000"/>
<circle cx="158.8" cy="393.5" r="3.1" fill="#000"/>
<circle cx="161.0" cy="394.3" r="3.1" fill="#000"/>
<circle cx="165.0" cy="395.6" r="3.1" fill="#000"/>
<circle cx="171.1" cy="394.8" r="3.1" fill="#000"/>
<circle cx="153.6" cy="376.2" r="3.1" fill="#000"/>
<circle cx="182.0" cy="375.5" r="3.1" fill="#000"/>
<circle cx="196.0" cy="376.8" r="3.1" fill="#000"/>
<circle cx="196.0" cy="390.4" r="3.1" fill="#000"/>
<circle cx="219.8" cy="353.3" r="3.1" fill="#000"/>
<circle cx="222.9" cy="355.3" r="3.1" fill="#000"/>
<circle cx="222.6" cy="359.5" r="3.1" fill="#000"/>
<circle cx="233.9" cy="353.6" r="3.1" fill="#000"/>
<circle cx="230.2" cy="358.4" r="3.1" fill="#000"/>
<circle cx="233.9" cy="362.6" r="3.1" fill="#000"/>
<line x1="19.7" y1="440.35" x2="230.8" y2="362.71" stroke="#000" stroke-width="1.7"/>
<polyline points="19.70,434.24 21.70,433.58 23.70,432.93 25.70,432.27 27.70,431.62 29.70,430.96 31.70,430.30 33.70,429.65 35.70,428.99 37.70,428.33 39.70,427.67 41.70,427.01 43.70,426.35 45.70,425.69 47.70,425.02 49.70,424.36 51.70,423.70 53.70,423.03 55.70,422.37 57.70,421.70 59.70,421.03 61.70,420.36 63.70,419.69 65.70,419.02 67.70,418.35 69.70,417.67 71.70,417.00 73.70,416.32 75.70,415.64 77.70,414.97 79.70,414.28 81.70,413.60 83.70,412.92 85.70,412.23 87.70,411.54 89.70,410.85 91.70,410.16 93.70,409.47 95.70,408.77 97.70,408.08 99.70,407.38 101.70,406.67 103.70,405.97 105.70,405.26 107.70,404.55 109.70,403.84 111.70,403.12 113.70,402.41 115.70,401.69 117.70,400.96 119.70,400.24 121.70,399.51 123.70,398.78 125.70,398.04 127.70,397.31 129.70,396.57 131.70,395.82 133.70,395.08 135.70,394.33 137.70,393.58 139.70,392.83 141.70,392.07 143.70,391.31 145.70,390.55 147.70,389.79 149.70,389.02 151.70,388.25 153.70,387.48 155.70,386.71 157.70,385.93 159.70,385.15 161.70,384.37 163.70,383.59 165.70,382.81 167.70,382.02 169.70,381.24 171.70,380.45 173.70,379.66 175.70,378.86 177.70,378.07 179.70,377.28 181.70,376.48 183.70,375.68 185.70,374.88 187.70,374.08 189.70,373.28 191.70,372.48 193.70,371.68 195.70,370.87 197.70,370.07 199.70,369.26 201.70,368.46 203.70,367.65 205.70,366.84 207.70,366.03 209.70,365.22 211.70,364.41 213.70,363.60 215.70,362.78 217.70,361.97 219.70,361.16 221.70,360.34 223.70,359.53 225.70,358.71 227.70,357.90 229.70,357.08" fill="none" stroke="#000" stroke-width="2.3" stroke-dasharray="0 7.05" stroke-linecap="round"/>
<polyline points="19.70,446.95 21.70,446.13 23.70,445.30 25.70,444.48 27.70,443.66 29.70,442.84 31.70,442.02 33.70,441.20 35.70,440.38 37.70,439.56 39.70,438.74 41.70,437.93 43.70,437.11 45.70,436.30 47.70,435.48 49.70,434.67 51.70,433.85 53.70,433.04 55.70,432.23 57.70,431.42 59.70,430.61 61.70,429.81 63.70,429.00 65.70,428.19 67.70,427.39 69.70,426.59 71.70,425.79 73.70,424.99 75.70,424.19 77.70,423.39 79.70,422.60 81.70,421.81 83.70,421.01 85.70,420.23 87.70,419.44 89.70,418.65 91.70,417.87 93.70,417.09 95.70,416.31 97.70,415.53 99.70,414.76 101.70,413.99 103.70,413.22 105.70,412.45 107.70,411.69 109.70,410.93 111.70,410.17 113.70,409.42 115.70,408.66 117.70,407.92 119.70,407.17 121.70,406.43 123.70,405.69 125.70,404.95 127.70,404.21 129.70,403.48 131.70,402.76 133.70,402.03 135.70,401.31 137.70,400.59 139.70,399.87 141.70,399.16 143.70,398.45 145.70,397.74 147.70,397.04 149.70,396.33 151.70,395.63 153.70,394.94 155.70,394.24 157.70,393.55 159.70,392.86 161.70,392.17 163.70,391.49 165.70,390.80 167.70,390.12 169.70,389.44 171.70,388.76 173.70,388.08 175.70,387.41 177.70,386.74 179.70,386.07 181.70,385.40 183.70,384.73 185.70,384.06 187.70,383.39 189.70,382.73 191.70,382.06 193.70,381.40 195.70,380.74 197.70,380.08 199.70,379.42 201.70,378.76 203.70,378.10 205.70,377.45 207.70,376.79 209.70,376.14 211.70,375.48 213.70,374.83 215.70,374.18 217.70,373.52 219.70,372.87 221.70,372.22 223.70,371.57 225.70,370.92 227.70,370.27 229.70,369.62" fill="none" stroke="#000" stroke-width="2.3" stroke-dasharray="0 7.05" stroke-linecap="round"/>
<text transform="translate(289.6,311.2) scale(0.93,1)" font-size="16" font-weight="bold" font-family="Liberation Sans, sans-serif">C</text>
<rect x="508.02" y="381.60" width="27.28" height="21.40" fill="#00B0F0"/>
<rect x="562.58" y="381.60" width="27.28" height="21.40" fill="#00B0F0"/>
<rect x="589.86" y="381.60" width="27.28" height="21.40" fill="#00B0F0"/>
<rect x="398.90" y="403.00" width="27.28" height="21.50" fill="#00B0F0"/>
<rect x="398.90" y="424.50" width="27.28" height="21.50" fill="#00B0F0"/>
<rect x="480.74" y="424.50" width="27.28" height="21.50" fill="#00B0F0"/>
<rect x="508.02" y="446.00" width="27.28" height="21.30" fill="#FF0000"/>
<rect x="535.30" y="446.00" width="27.28" height="21.30" fill="#FF0000"/>
<rect x="589.86" y="446.00" width="27.28" height="21.30" fill="#FF0000"/>
<path d="M292.40 333.6V467.3M339.50 333.6V467.3M398.90 333.6V467.3M426.18 333.6V467.3M453.46 333.6V467.3M480.74 333.6V467.3M508.02 333.6V467.3M535.30 333.6V467.3M562.58 333.6V467.3M589.86 333.6V467.3M617.14 333.6V467.3M644.42 333.6V467.3M682.50 333.6V467.3M292.4 333.60H682.5M292.4 381.60H682.5M292.4 403.00H682.5M292.4 424.50H682.5M292.4 446.00H682.5M292.4 467.30H682.5" stroke="#2a2a2a" stroke-width="1.05" fill="none"/>
<line x1="292.4" y1="424.5" x2="682.5" y2="424.5" stroke="#000" stroke-width="1.7"/>
<line x1="291.79999999999995" y1="467.3" x2="683.1" y2="467.3" stroke="#000" stroke-width="1.6"/>
<line x1="292.4" y1="333.6" x2="292.4" y2="467.3" stroke="#000" stroke-width="1.4"/>
<line x1="682.5" y1="333.6" x2="682.5" y2="467.3" stroke="#000" stroke-width="1.4"/>
<text x="299.30" y="362.90" font-size="10.8" font-weight="bold" fill="#111" textLength="34.20" lengthAdjust="spacingAndGlyphs" stroke="#111" stroke-width="0.3" font-family="Liberation Sans, sans-serif">GENES</text>
<text x="341.30" y="362.90" font-size="10.8" font-weight="bold" fill="#111" textLength="56.60" lengthAdjust="spacingAndGlyphs" stroke="#111" stroke-width="0.3" font-family="Liberation Sans, sans-serif">Chr. LOCUS</text>
<text transform="translate(416.10,379.30) rotate(-90)" font-size="10.8" font-weight="bold" fill="#111" textLength="39.20" lengthAdjust="spacingAndGlyphs" stroke="#111" stroke-width="0.3" font-family="Liberation Sans, sans-serif">SS 68T1</text>
<text transform="translate(416.10,340.60) rotate(-90)" font-size="10.0" font-weight="bold" fill="#111" textLength="3.60" lengthAdjust="spacingAndGlyphs" stroke="#111" stroke-width="0.1" font-family="Liberation Sans, sans-serif">°</text>
<text transform="translate(443.38,379.30) rotate(-90)" font-size="10.8" font-weight="bold" fill="#111" textLength="39.20" lengthAdjust="spacingAndGlyphs" stroke="#111" stroke-width="0.3" font-family="Liberation Sans, sans-serif">SS 74T1</text>
<text transform="translate(443.38,340.60) rotate(-90)" font-size="10.0" font-weight="bold" fill="#111" textLength="3.60" lengthAdjust="spacingAndGlyphs" stroke="#111" stroke-width="0.1" font-family="Liberation Sans, sans-serif">°</text>
<text transform="translate(470.66,379.30) rotate(-90)" font-size="10.8" font-weight="bold" fill="#111" textLength="39.20" lengthAdjust="spacingAndGlyphs" stroke="#111" stroke-width="0.3" font-family="Liberation Sans, sans-serif">SS 76T1</text>
<text transform="translate(470.66,340.60) rotate(-90)" font-size="10.0" font-weight="bold" fill="#111" textLength="3.60" lengthAdjust="spacingAndGlyphs" stroke="#111" stroke-width="0.1" font-family="Liberation Sans, sans-serif">°</text>
<text transform="translate(497.94,379.30) rotate(-90)" font-size="10.8" font-weight="bold" fill="#111" textLength="39.20" lengthAdjust="spacingAndGlyphs" stroke="#111" stroke-width="0.3" font-family="Liberation Sans, sans-serif">SS 81T1</text>
<text transform="translate(497.94,340.60) rotate(-90)" font-size="10.0" font-weight="bold" fill="#111" textLength="3.60" lengthAdjust="spacingAndGlyphs" stroke="#111" stroke-width="0.1" font-family="Liberation Sans, sans-serif">°</text>
<text transform="translate(525.22,379.30) rotate(-90)" font-size="10.8" font-weight="bold" fill="#111" textLength="39.20" lengthAdjust="spacingAndGlyphs" stroke="#111" stroke-width="0.3" font-family="Liberation Sans, sans-serif">SS 86T1</text>
<text transform="translate(524.62,340.40) rotate(-90)" font-size="12.5" font-weight="bold" fill="#111" textLength="5.60" lengthAdjust="spacingAndGlyphs" stroke="#111" stroke-width="0.2" font-family="Liberation Sans, sans-serif">*</text>
<text transform="translate(552.50,379.30) rotate(-90)" font-size="10.8" font-weight="bold" fill="#111" textLength="39.20" lengthAdjust="spacingAndGlyphs" stroke="#111" stroke-width="0.3" font-family="Liberation Sans, sans-serif">SS 87T2</text>
<text transform="translate(551.90,340.40) rotate(-90)" font-size="12.5" font-weight="bold" fill="#111" textLength="5.60" lengthAdjust="spacingAndGlyphs" stroke="#111" stroke-width="0.2" font-family="Liberation Sans, sans-serif">*</text>
<text transform="translate(579.78,379.30) rotate(-90)" font-size="10.8" font-weight="bold" fill="#111" textLength="39.20" lengthAdjust="spacingAndGlyphs" stroke="#111" stroke-width="0.3" font-family="Liberation Sans, sans-serif">SS 88T2</text>
<text transform="translate(579.18,340.40) rotate(-90)" font-size="12.5" font-weight="bold" fill="#111" textLength="5.60" lengthAdjust="spacingAndGlyphs" stroke="#111" stroke-width="0.2" font-family="Liberation Sans, sans-serif">*</text>
<text transform="translate(607.06,379.30) rotate(-90)" font-size="10.8" font-weight="bold" fill="#111" textLength="39.20" lengthAdjust="spacingAndGlyphs" stroke="#111" stroke-width="0.3" font-family="Liberation Sans, sans-serif">SS 92T2</text>
<text transform="translate(606.46,340.40) rotate(-90)" font-size="12.5" font-weight="bold" fill="#111" textLength="5.60" lengthAdjust="spacingAndGlyphs" stroke="#111" stroke-width="0.2" font-family="Liberation Sans, sans-serif">*</text>
<text transform="translate(634.34,379.30) rotate(-90)" font-size="10.8" font-weight="bold" fill="#111" textLength="39.20" lengthAdjust="spacingAndGlyphs" stroke="#111" stroke-width="0.3" font-family="Liberation Sans, sans-serif">SS 94T2</text>
<text transform="translate(633.74,340.40) rotate(-90)" font-size="12.5" font-weight="bold" fill="#111" textLength="5.60" lengthAdjust="spacingAndGlyphs" stroke="#111" stroke-width="0.2" font-family="Liberation Sans, sans-serif">*</text>
<text x="663.40" y="346.00" font-size="10.8" font-weight="bold" fill="#111" text-anchor="middle" textLength="24.40" lengthAdjust="spacingAndGlyphs" stroke="#111" stroke-width="0.3" font-family="Liberation Sans, sans-serif">% of</text>
<text x="663.40" y="361.70" font-size="10.8" font-weight="bold" fill="#111" text-anchor="middle" textLength="25.00" lengthAdjust="spacingAndGlyphs" stroke="#111" stroke-width="0.3" font-family="Liberation Sans, sans-serif">gene</text>
<text x="663.40" y="379.10" font-size="10.8" font-weight="bold" fill="#111" text-anchor="middle" textLength="31.30" lengthAdjust="spacingAndGlyphs" stroke="#111" stroke-width="0.3" font-family="Liberation Sans, sans-serif">lesion</text>
<text x="295.00" y="397.40" font-size="10.8" font-weight="bold" fill="#111" textLength="23.60" lengthAdjust="spacingAndGlyphs" stroke="#111" stroke-width="0.3" font-family="Liberation Sans, sans-serif">LKB1</text>
<text x="341.40" y="397.40" font-size="10.8" fill="#333" textLength="32.40" lengthAdjust="spacingAndGlyphs" stroke="#333" stroke-width="0.15" font-family="Liberation Sans, sans-serif">1p13.1</text>
<text x="664.10" y="400.20" font-size="10.8" fill="#1a1a1a" text-anchor="middle" textLength="20.20" lengthAdjust="spacingAndGlyphs" stroke="#1a1a1a" stroke-width="0.12" font-family="Liberation Sans, sans-serif">33%</text>
<text x="295.00" y="419.30" font-size="10.8" font-weight="bold" fill="#111" textLength="25.30" lengthAdjust="spacingAndGlyphs" stroke="#111" stroke-width="0.3" font-family="Liberation Sans, sans-serif">PTEN</text>
<text x="341.40" y="419.30" font-size="10.8" font-weight="bold" fill="#111" textLength="51.20" lengthAdjust="spacingAndGlyphs" stroke="#111" stroke-width="0.3" font-family="Liberation Sans, sans-serif">10q23.31 -</text>
<text x="664.10" y="421.80" font-size="10.8" fill="#1a1a1a" text-anchor="middle" textLength="20.20" lengthAdjust="spacingAndGlyphs" stroke="#1a1a1a" stroke-width="0.12" font-family="Liberation Sans, sans-serif">11%</text>
<text x="295.00" y="440.80" font-size="10.8" font-weight="bold" fill="#111" textLength="33.80" lengthAdjust="spacingAndGlyphs" stroke="#111" stroke-width="0.3" font-family="Liberation Sans, sans-serif">PDCD4</text>
<text x="341.40" y="440.80" font-size="10.8" font-weight="bold" fill="#111" textLength="44.50" lengthAdjust="spacingAndGlyphs" stroke="#111" stroke-width="0.3" font-family="Liberation Sans, sans-serif">10q25.2 -</text>
<text x="664.10" y="443.60" font-size="10.8" fill="#1a1a1a" text-anchor="middle" textLength="20.20" lengthAdjust="spacingAndGlyphs" stroke="#1a1a1a" stroke-width="0.12" font-family="Liberation Sans, sans-serif">22%</text>
<text x="295.00" y="462.40" font-size="10.8" font-weight="bold" fill="#111" textLength="35.60" lengthAdjust="spacingAndGlyphs" stroke="#111" stroke-width="0.3" font-family="Liberation Sans, sans-serif">P70S6K</text>
<text x="341.40" y="462.40" font-size="10.8" font-weight="bold" fill="#111" textLength="47.10" lengthAdjust="spacingAndGlyphs" stroke="#111" stroke-width="0.3" font-family="Liberation Sans, sans-serif">17q23.1 +</text>
<text x="664.10" y="463.90" font-size="10.8" fill="#1a1a1a" text-anchor="middle" textLength="20.20" lengthAdjust="spacingAndGlyphs" stroke="#1a1a1a" stroke-width="0.12" font-family="Liberation Sans, sans-serif">33%</text>
</svg>
</body></html>
